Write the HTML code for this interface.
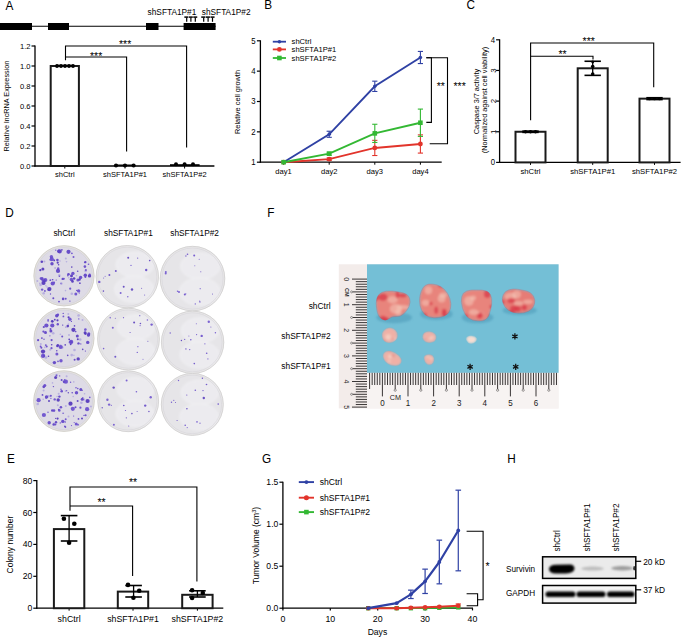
<!DOCTYPE html>
<html><head><meta charset="utf-8"><style>
html,body{margin:0;padding:0;background:#fff;overflow:hidden;}
svg{display:block;}
text{font-family:"Liberation Sans", sans-serif;}
</style></head><body>
<svg width="685" height="637" viewBox="0 0 685 637">
<defs>
<radialGradient id="dishC" cx="50%" cy="50%" r="50%">
 <stop offset="0" stop-color="#dedce6"/><stop offset="0.85" stop-color="#d6d4de"/><stop offset="0.93" stop-color="#c9c8cf"/><stop offset="0.97" stop-color="#e4e3e6"/><stop offset="1" stop-color="#cfcfd0"/>
</radialGradient>
<radialGradient id="dishL" cx="50%" cy="50%" r="50%">
 <stop offset="0" stop-color="#e8e6ec"/><stop offset="0.85" stop-color="#e2e0e6"/><stop offset="0.93" stop-color="#d3d2d6"/><stop offset="0.97" stop-color="#ecebed"/><stop offset="1" stop-color="#d4d3d4"/>
</radialGradient>
<filter id="bl1" x="-20%" y="-20%" width="140%" height="140%"><feGaussianBlur stdDeviation="0.5"/></filter>
<filter id="bl2" x="-30%" y="-60%" width="160%" height="220%"><feGaussianBlur stdDeviation="1.3"/></filter>
<filter id="bl3" x="-30%" y="-60%" width="160%" height="220%"><feGaussianBlur stdDeviation="0.8"/></filter>
<radialGradient id="tum" cx="45%" cy="40%" r="60%">
 <stop offset="0" stop-color="#f7c9b6"/><stop offset="0.5" stop-color="#f0a293"/><stop offset="1" stop-color="#e06a6e"/>
</radialGradient>
<radialGradient id="tumS" cx="45%" cy="40%" r="60%">
 <stop offset="0" stop-color="#f8d4c6"/><stop offset="0.6" stop-color="#f2b3a6"/><stop offset="1" stop-color="#e79a92"/>
</radialGradient>
</defs>
<rect width="685" height="637" fill="#fff"/>
<text transform="translate(5.5 9.8) scale(1 1.09)" font-size="11.8">A</text>
<text transform="translate(264.2 8.7) scale(1 1.09)" font-size="11.8">B</text>
<text transform="translate(466.6 8.6) scale(1 1.09)" font-size="11.8">C</text>
<text transform="translate(5.2 216.7) scale(1 1.09)" font-size="11.8">D</text>
<text transform="translate(267.2 216.7) scale(1 1.09)" font-size="11.8">F</text>
<text transform="translate(7.1 462.6) scale(1 1.09)" font-size="11.8">E</text>
<text transform="translate(262.0 462.6) scale(1 1.09)" font-size="11.8">G</text>
<text transform="translate(507.2 462.6) scale(1 1.09)" font-size="11.8">H</text>
<line x1="0.00" y1="26.30" x2="215.60" y2="26.30" stroke="#000" stroke-width="1.1" />
<rect x="0.00" y="23.00" width="32.00" height="7.00" fill="#000" stroke="none" stroke-width="0" />
<rect x="48.00" y="23.00" width="21.00" height="7.00" fill="#000" stroke="none" stroke-width="0" />
<rect x="146.00" y="23.00" width="12.50" height="7.00" fill="#000" stroke="none" stroke-width="0" />
<rect x="183.60" y="23.00" width="32.00" height="7.00" fill="#000" stroke="none" stroke-width="0" />
<text transform="translate(147.60 15.00) scale(1 1.05)" font-size="8.3" text-anchor="start" fill="#000" font-weight="normal" >shSFTA1P#1</text>
<text transform="translate(201.80 15.00) scale(1 1.05)" font-size="8.3" text-anchor="start" fill="#000" font-weight="normal" >shSFTA1P#2</text>
<line x1="184.35" y1="17.10" x2="188.32" y2="17.10" stroke="#000" stroke-width="1.5" />
<line x1="188.82" y1="17.10" x2="192.78" y2="17.10" stroke="#000" stroke-width="1.5" />
<line x1="193.28" y1="17.10" x2="197.25" y2="17.10" stroke="#000" stroke-width="1.5" />
<line x1="186.70" y1="17.50" x2="186.70" y2="21.80" stroke="#000" stroke-width="1.2" />
<line x1="190.90" y1="17.50" x2="190.90" y2="21.80" stroke="#000" stroke-width="1.2" />
<line x1="195.30" y1="17.50" x2="195.30" y2="21.80" stroke="#000" stroke-width="1.2" />
<line x1="201.25" y1="17.10" x2="205.35" y2="17.10" stroke="#000" stroke-width="1.5" />
<line x1="205.85" y1="17.10" x2="209.95" y2="17.10" stroke="#000" stroke-width="1.5" />
<line x1="210.45" y1="17.10" x2="214.55" y2="17.10" stroke="#000" stroke-width="1.5" />
<line x1="203.70" y1="17.50" x2="203.70" y2="21.80" stroke="#000" stroke-width="1.2" />
<line x1="208.10" y1="17.50" x2="208.10" y2="21.80" stroke="#000" stroke-width="1.2" />
<line x1="212.50" y1="17.50" x2="212.50" y2="21.80" stroke="#000" stroke-width="1.2" />
<line x1="35.00" y1="45.50" x2="35.00" y2="166.50" stroke="#000" stroke-width="1.3" />
<line x1="34.40" y1="166.00" x2="214.40" y2="166.00" stroke="#000" stroke-width="1.3" />
<line x1="31.50" y1="166.00" x2="35.00" y2="166.00" stroke="#000" stroke-width="1.2" />
<text transform="translate(30.50 168.60) scale(1 1.05)" font-size="7.6" text-anchor="end" fill="#000" font-weight="normal" >0.0</text>
<line x1="31.50" y1="146.00" x2="35.00" y2="146.00" stroke="#000" stroke-width="1.2" />
<text transform="translate(30.50 148.60) scale(1 1.05)" font-size="7.6" text-anchor="end" fill="#000" font-weight="normal" >0.2</text>
<line x1="31.50" y1="126.00" x2="35.00" y2="126.00" stroke="#000" stroke-width="1.2" />
<text transform="translate(30.50 128.60) scale(1 1.05)" font-size="7.6" text-anchor="end" fill="#000" font-weight="normal" >0.4</text>
<line x1="31.50" y1="106.00" x2="35.00" y2="106.00" stroke="#000" stroke-width="1.2" />
<text transform="translate(30.50 108.60) scale(1 1.05)" font-size="7.6" text-anchor="end" fill="#000" font-weight="normal" >0.6</text>
<line x1="31.50" y1="86.00" x2="35.00" y2="86.00" stroke="#000" stroke-width="1.2" />
<text transform="translate(30.50 88.60) scale(1 1.05)" font-size="7.6" text-anchor="end" fill="#000" font-weight="normal" >0.8</text>
<line x1="31.50" y1="66.00" x2="35.00" y2="66.00" stroke="#000" stroke-width="1.2" />
<text transform="translate(30.50 68.60) scale(1 1.05)" font-size="7.6" text-anchor="end" fill="#000" font-weight="normal" >1.0</text>
<line x1="31.50" y1="46.00" x2="35.00" y2="46.00" stroke="#000" stroke-width="1.2" />
<text transform="translate(30.50 48.60) scale(1 1.05)" font-size="7.6" text-anchor="end" fill="#000" font-weight="normal" >1.2</text>
<line x1="64.80" y1="166.00" x2="64.80" y2="168.50" stroke="#000" stroke-width="1" />
<line x1="125.00" y1="166.00" x2="125.00" y2="168.50" stroke="#000" stroke-width="1" />
<line x1="184.60" y1="166.00" x2="184.60" y2="168.50" stroke="#000" stroke-width="1" />
<rect x="50.70" y="66.00" width="28.20" height="100.00" fill="#fff" stroke="#1a1a1a" stroke-width="2" />
<circle cx="57.00" cy="66.00" r="1.9" fill="#000" />
<circle cx="61.00" cy="66.00" r="1.9" fill="#000" />
<circle cx="65.00" cy="66.00" r="1.9" fill="#000" />
<circle cx="69.00" cy="66.00" r="1.9" fill="#000" />
<circle cx="73.00" cy="66.00" r="1.9" fill="#000" />
<line x1="56.00" y1="65.50" x2="74.00" y2="65.50" stroke="#000" stroke-width="1.5" />
<circle cx="116.00" cy="165.50" r="2.1" fill="#000" />
<circle cx="125.00" cy="165.50" r="2.1" fill="#000" />
<circle cx="133.60" cy="165.50" r="2.1" fill="#000" />
<line x1="115.00" y1="165.20" x2="134.00" y2="165.20" stroke="#000" stroke-width="1.4" />
<rect x="170.00" y="164.20" width="29.60" height="1.80" fill="#000" stroke="none" stroke-width="0" />
<circle cx="176.00" cy="164.30" r="2" fill="#000" />
<circle cx="184.60" cy="164.30" r="2" fill="#000" />
<circle cx="193.00" cy="164.30" r="2" fill="#000" />
<polyline points="65.50,60.20 65.50,46.00 186.60,46.00 186.60,147.50" fill="none" stroke="#000" stroke-width="1.1" />
<polyline points="65.50,57.00 126.60,57.00 126.60,151.40" fill="none" stroke="#000" stroke-width="1.1" />
<text transform="translate(96.10 60.22) scale(1 1.0)" font-size="10.5" text-anchor="middle" fill="#000" font-weight="normal" >***</text>
<text transform="translate(125.10 48.02) scale(1 1.0)" font-size="10.5" text-anchor="middle" fill="#000" font-weight="normal" >***</text>
<text x="9.00" y="106.00" font-size="7.3" text-anchor="middle" fill="#000" font-weight="normal" transform="rotate(-90 9.00 106.00)" >Relative lncRNA Expression</text>
<text transform="translate(64.80 176.60) scale(1 1.05)" font-size="7.5" text-anchor="middle" fill="#000" font-weight="normal" >shCtrl</text>
<text transform="translate(125.00 176.60) scale(1 1.05)" font-size="7.5" text-anchor="middle" fill="#000" font-weight="normal" >shSFTA1P#1</text>
<text transform="translate(184.60 176.60) scale(1 1.05)" font-size="7.5" text-anchor="middle" fill="#000" font-weight="normal" >shSFTA1P#2</text>
<line x1="260.40" y1="40.30" x2="260.40" y2="162.70" stroke="#000" stroke-width="1.3" />
<line x1="259.80" y1="162.20" x2="441.70" y2="162.20" stroke="#000" stroke-width="1.3" />
<line x1="256.90" y1="162.20" x2="260.40" y2="162.20" stroke="#000" stroke-width="1.2" />
<text transform="translate(255.60 165.00) scale(1 1.05)" font-size="7.8" text-anchor="end" fill="#000" font-weight="normal" >1</text>
<line x1="256.90" y1="131.85" x2="260.40" y2="131.85" stroke="#000" stroke-width="1.2" />
<text transform="translate(255.60 134.65) scale(1 1.05)" font-size="7.8" text-anchor="end" fill="#000" font-weight="normal" >2</text>
<line x1="256.90" y1="101.50" x2="260.40" y2="101.50" stroke="#000" stroke-width="1.2" />
<text transform="translate(255.60 104.30) scale(1 1.05)" font-size="7.8" text-anchor="end" fill="#000" font-weight="normal" >3</text>
<line x1="256.90" y1="71.15" x2="260.40" y2="71.15" stroke="#000" stroke-width="1.2" />
<text transform="translate(255.60 73.95) scale(1 1.05)" font-size="7.8" text-anchor="end" fill="#000" font-weight="normal" >4</text>
<line x1="256.90" y1="40.80" x2="260.40" y2="40.80" stroke="#000" stroke-width="1.2" />
<text transform="translate(255.60 43.60) scale(1 1.05)" font-size="7.8" text-anchor="end" fill="#000" font-weight="normal" >5</text>
<line x1="283.60" y1="162.20" x2="283.60" y2="164.70" stroke="#000" stroke-width="1" />
<text transform="translate(283.60 173.60) scale(1 1.05)" font-size="7.6" text-anchor="middle" fill="#000" font-weight="normal" >day1</text>
<line x1="329.20" y1="162.20" x2="329.20" y2="164.70" stroke="#000" stroke-width="1" />
<text transform="translate(329.20 173.60) scale(1 1.05)" font-size="7.6" text-anchor="middle" fill="#000" font-weight="normal" >day2</text>
<line x1="374.80" y1="162.20" x2="374.80" y2="164.70" stroke="#000" stroke-width="1" />
<text transform="translate(374.80 173.60) scale(1 1.05)" font-size="7.6" text-anchor="middle" fill="#000" font-weight="normal" >day3</text>
<line x1="420.40" y1="162.20" x2="420.40" y2="164.70" stroke="#000" stroke-width="1" />
<text transform="translate(420.40 173.60) scale(1 1.05)" font-size="7.6" text-anchor="middle" fill="#000" font-weight="normal" >day4</text>
<line x1="329.20" y1="131.24" x2="329.20" y2="137.31" stroke="#2f41a4" stroke-width="1.1" />
<line x1="326.60" y1="131.24" x2="331.80" y2="131.24" stroke="#2f41a4" stroke-width="1.1" />
<line x1="326.60" y1="137.31" x2="331.80" y2="137.31" stroke="#2f41a4" stroke-width="1.1" />
<line x1="374.80" y1="81.17" x2="374.80" y2="91.48" stroke="#2f41a4" stroke-width="1.1" />
<line x1="372.20" y1="81.17" x2="377.40" y2="81.17" stroke="#2f41a4" stroke-width="1.1" />
<line x1="372.20" y1="91.48" x2="377.40" y2="91.48" stroke="#2f41a4" stroke-width="1.1" />
<line x1="420.40" y1="51.42" x2="420.40" y2="63.56" stroke="#2f41a4" stroke-width="1.1" />
<line x1="417.80" y1="51.42" x2="423.00" y2="51.42" stroke="#2f41a4" stroke-width="1.1" />
<line x1="417.80" y1="63.56" x2="423.00" y2="63.56" stroke="#2f41a4" stroke-width="1.1" />
<polyline points="283.60,162.20 329.20,134.28 374.80,86.32 420.40,57.49" fill="none" stroke="#2f41a4" stroke-width="1.9" />
<circle cx="283.60" cy="162.20" r="1.8" fill="#2f41a4" />
<circle cx="329.20" cy="134.28" r="1.8" fill="#2f41a4" />
<circle cx="374.80" cy="86.32" r="1.8" fill="#2f41a4" />
<circle cx="420.40" cy="57.49" r="1.8" fill="#2f41a4" />
<line x1="329.20" y1="157.95" x2="329.20" y2="160.38" stroke="#e2342b" stroke-width="1.1" />
<line x1="326.60" y1="157.95" x2="331.80" y2="157.95" stroke="#e2342b" stroke-width="1.1" />
<line x1="326.60" y1="160.38" x2="331.80" y2="160.38" stroke="#e2342b" stroke-width="1.1" />
<line x1="374.80" y1="140.35" x2="374.80" y2="155.52" stroke="#e2342b" stroke-width="1.1" />
<line x1="372.20" y1="140.35" x2="377.40" y2="140.35" stroke="#e2342b" stroke-width="1.1" />
<line x1="372.20" y1="155.52" x2="377.40" y2="155.52" stroke="#e2342b" stroke-width="1.1" />
<line x1="420.40" y1="134.88" x2="420.40" y2="153.09" stroke="#e2342b" stroke-width="1.1" />
<line x1="417.80" y1="134.88" x2="423.00" y2="134.88" stroke="#e2342b" stroke-width="1.1" />
<line x1="417.80" y1="153.09" x2="423.00" y2="153.09" stroke="#e2342b" stroke-width="1.1" />
<polyline points="283.60,162.20 329.20,159.16 374.80,147.94 420.40,143.99" fill="none" stroke="#e2342b" stroke-width="1.9" />
<circle cx="283.60" cy="162.20" r="2.4" fill="#e2342b" />
<circle cx="329.20" cy="159.16" r="2.4" fill="#e2342b" />
<circle cx="374.80" cy="147.94" r="2.4" fill="#e2342b" />
<circle cx="420.40" cy="143.99" r="2.4" fill="#e2342b" />
<line x1="329.20" y1="152.18" x2="329.20" y2="155.22" stroke="#33b833" stroke-width="1.1" />
<line x1="326.60" y1="152.18" x2="331.80" y2="152.18" stroke="#33b833" stroke-width="1.1" />
<line x1="326.60" y1="155.22" x2="331.80" y2="155.22" stroke="#33b833" stroke-width="1.1" />
<line x1="374.80" y1="124.26" x2="374.80" y2="142.47" stroke="#33b833" stroke-width="1.1" />
<line x1="372.20" y1="124.26" x2="377.40" y2="124.26" stroke="#33b833" stroke-width="1.1" />
<line x1="372.20" y1="142.47" x2="377.40" y2="142.47" stroke="#33b833" stroke-width="1.1" />
<line x1="420.40" y1="109.09" x2="420.40" y2="136.40" stroke="#33b833" stroke-width="1.1" />
<line x1="417.80" y1="109.09" x2="423.00" y2="109.09" stroke="#33b833" stroke-width="1.1" />
<line x1="417.80" y1="136.40" x2="423.00" y2="136.40" stroke="#33b833" stroke-width="1.1" />
<polyline points="283.60,162.20 329.20,153.70 374.80,133.37 420.40,122.74" fill="none" stroke="#33b833" stroke-width="1.9" />
<rect x="281.30" y="159.90" width="4.60" height="4.60" fill="#33b833" stroke="none" stroke-width="0" />
<rect x="326.90" y="151.40" width="4.60" height="4.60" fill="#33b833" stroke="none" stroke-width="0" />
<rect x="372.50" y="131.07" width="4.60" height="4.60" fill="#33b833" stroke="none" stroke-width="0" />
<rect x="418.10" y="120.44" width="4.60" height="4.60" fill="#33b833" stroke="none" stroke-width="0" />
<line x1="272.80" y1="41.70" x2="286.00" y2="41.70" stroke="#2f41a4" stroke-width="1.8" />
<circle cx="279.40" cy="41.70" r="1.8" fill="#2f41a4" />
<text transform="translate(291.60 44.40) scale(1 1.05)" font-size="7.6" text-anchor="start" fill="#000" font-weight="normal" >shCtrl</text>
<line x1="272.80" y1="49.40" x2="286.00" y2="49.40" stroke="#e2342b" stroke-width="1.8" />
<circle cx="279.40" cy="49.40" r="2.4" fill="#e2342b" />
<text transform="translate(291.60 52.10) scale(1 1.05)" font-size="7.6" text-anchor="start" fill="#000" font-weight="normal" >shSFTA1P#1</text>
<line x1="272.80" y1="58.00" x2="286.00" y2="58.00" stroke="#33b833" stroke-width="1.8" />
<rect x="277.10" y="55.70" width="4.60" height="4.60" fill="#33b833" stroke="none" stroke-width="0" />
<text transform="translate(291.60 60.70) scale(1 1.05)" font-size="7.6" text-anchor="start" fill="#000" font-weight="normal" >shSFTA1P#2</text>
<polyline points="426.30,57.80 431.40,57.80 431.40,122.40 426.30,122.40" fill="none" stroke="#000" stroke-width="1.1" />
<polyline points="426.30,57.80 447.50,57.80 447.50,143.80 429.70,143.80" fill="none" stroke="#000" stroke-width="1.1" />
<text transform="translate(440.80 90.02) scale(1 1.0)" font-size="10.5" text-anchor="middle" fill="#000" font-weight="normal" >**</text>
<text transform="translate(459.60 89.72) scale(1 1.0)" font-size="10.5" text-anchor="middle" fill="#000" font-weight="normal" >***</text>
<text x="240.40" y="102.00" font-size="7.4" text-anchor="middle" fill="#000" font-weight="normal" transform="rotate(-90 240.40 102.00)" >Relative cell growth</text>
<line x1="499.60" y1="39.30" x2="499.60" y2="162.90" stroke="#000" stroke-width="1.3" />
<line x1="499.00" y1="162.40" x2="680.60" y2="162.40" stroke="#000" stroke-width="1.3" />
<line x1="496.10" y1="162.40" x2="499.60" y2="162.40" stroke="#000" stroke-width="1.2" />
<text transform="translate(495.00 165.20) scale(1 1.05)" font-size="7.8" text-anchor="end" fill="#000" font-weight="normal" >0</text>
<line x1="496.10" y1="131.75" x2="499.60" y2="131.75" stroke="#000" stroke-width="1.2" />
<text x="495.60" y="131.75" font-size="7.8" text-anchor="middle" fill="#000" font-weight="normal" transform="rotate(-90 495.60 131.75)" >1</text>
<line x1="496.10" y1="101.10" x2="499.60" y2="101.10" stroke="#000" stroke-width="1.2" />
<text x="495.60" y="101.10" font-size="7.8" text-anchor="middle" fill="#000" font-weight="normal" transform="rotate(-90 495.60 101.10)" >2</text>
<line x1="496.10" y1="70.45" x2="499.60" y2="70.45" stroke="#000" stroke-width="1.2" />
<text x="495.60" y="70.45" font-size="7.8" text-anchor="middle" fill="#000" font-weight="normal" transform="rotate(-90 495.60 70.45)" >3</text>
<line x1="496.10" y1="39.80" x2="499.60" y2="39.80" stroke="#000" stroke-width="1.2" />
<text transform="translate(495.00 42.60) scale(1 1.05)" font-size="7.8" text-anchor="end" fill="#000" font-weight="normal" >4</text>
<line x1="530.50" y1="162.40" x2="530.50" y2="164.90" stroke="#000" stroke-width="1" />
<line x1="592.70" y1="162.40" x2="592.70" y2="164.90" stroke="#000" stroke-width="1" />
<line x1="654.50" y1="162.40" x2="654.50" y2="164.90" stroke="#000" stroke-width="1" />
<rect x="515.50" y="131.75" width="30.00" height="30.65" fill="#fff" stroke="#1a1a1a" stroke-width="2" />
<rect x="577.70" y="68.30" width="30.00" height="94.10" fill="#fff" stroke="#1a1a1a" stroke-width="2" />
<rect x="639.50" y="98.65" width="30.00" height="63.75" fill="#fff" stroke="#1a1a1a" stroke-width="2" />
<line x1="530.50" y1="131.14" x2="530.50" y2="132.36" stroke="#000" stroke-width="1.3" />
<line x1="522.30" y1="131.14" x2="538.70" y2="131.14" stroke="#000" stroke-width="1.6" />
<line x1="522.30" y1="132.36" x2="538.70" y2="132.36" stroke="#000" stroke-width="1.6" />
<line x1="592.70" y1="61.26" x2="592.70" y2="75.35" stroke="#000" stroke-width="1.3" />
<line x1="584.50" y1="61.26" x2="600.90" y2="61.26" stroke="#000" stroke-width="1.6" />
<line x1="584.50" y1="75.35" x2="600.90" y2="75.35" stroke="#000" stroke-width="1.6" />
<line x1="654.50" y1="97.73" x2="654.50" y2="99.57" stroke="#000" stroke-width="1.3" />
<line x1="646.30" y1="97.73" x2="662.70" y2="97.73" stroke="#000" stroke-width="1.6" />
<line x1="646.30" y1="99.57" x2="662.70" y2="99.57" stroke="#000" stroke-width="1.6" />
<circle cx="592.70" cy="66.50" r="1.8" fill="#000" />
<circle cx="592.70" cy="74.00" r="1.8" fill="#000" />
<circle cx="592.70" cy="62.00" r="1.4" fill="#000" />
<circle cx="525.50" cy="131.75" r="1.7" fill="#000" />
<circle cx="530.50" cy="131.75" r="1.7" fill="#000" />
<circle cx="535.50" cy="131.75" r="1.7" fill="#000" />
<circle cx="649.50" cy="98.65" r="1.7" fill="#000" />
<circle cx="654.50" cy="98.65" r="1.7" fill="#000" />
<circle cx="659.50" cy="98.65" r="1.7" fill="#000" />
<polyline points="530.60,120.30 530.60,43.00 653.70,43.00 653.70,87.20" fill="none" stroke="#000" stroke-width="1.1" />
<polyline points="530.60,56.30 593.00,56.30 593.00,59.60" fill="none" stroke="#000" stroke-width="1.1" />
<text transform="translate(588.70 44.72) scale(1 1.0)" font-size="10.5" text-anchor="middle" fill="#000" font-weight="normal" >***</text>
<text transform="translate(562.50 57.72) scale(1 1.0)" font-size="10.5" text-anchor="middle" fill="#000" font-weight="normal" >**</text>
<text x="478.60" y="101.50" font-size="7.3" text-anchor="middle" fill="#000" font-weight="normal" transform="rotate(-90 478.60 101.50)" >Caspase 3/7 activity</text>
<text x="486.60" y="100.00" font-size="7.3" text-anchor="middle" fill="#000" font-weight="normal" transform="rotate(-90 486.60 100.00)" >(Normalized against cell viability)</text>
<text transform="translate(530.50 173.80) scale(1 1.05)" font-size="7.7" text-anchor="middle" fill="#000" font-weight="normal" >shCtrl</text>
<text transform="translate(592.70 173.80) scale(1 1.05)" font-size="7.7" text-anchor="middle" fill="#000" font-weight="normal" >shSFTA1P#1</text>
<text transform="translate(654.50 173.80) scale(1 1.05)" font-size="7.7" text-anchor="middle" fill="#000" font-weight="normal" >shSFTA1P#2</text>
<line x1="36.80" y1="480.10" x2="36.80" y2="608.70" stroke="#000" stroke-width="1.3" />
<line x1="36.20" y1="608.20" x2="223.30" y2="608.20" stroke="#000" stroke-width="1.3" />
<line x1="33.30" y1="608.20" x2="36.80" y2="608.20" stroke="#000" stroke-width="1.2" />
<text transform="translate(32.20 611.20) scale(1 1.05)" font-size="8.6" text-anchor="end" fill="#000" font-weight="normal" >0</text>
<line x1="33.30" y1="576.30" x2="36.80" y2="576.30" stroke="#000" stroke-width="1.2" />
<text transform="translate(32.20 579.30) scale(1 1.05)" font-size="8.6" text-anchor="end" fill="#000" font-weight="normal" >20</text>
<line x1="33.30" y1="544.40" x2="36.80" y2="544.40" stroke="#000" stroke-width="1.2" />
<text transform="translate(32.20 547.40) scale(1 1.05)" font-size="8.6" text-anchor="end" fill="#000" font-weight="normal" >40</text>
<line x1="33.30" y1="512.50" x2="36.80" y2="512.50" stroke="#000" stroke-width="1.2" />
<text transform="translate(32.20 515.50) scale(1 1.05)" font-size="8.6" text-anchor="end" fill="#000" font-weight="normal" >60</text>
<line x1="33.30" y1="480.60" x2="36.80" y2="480.60" stroke="#000" stroke-width="1.2" />
<text transform="translate(32.20 483.60) scale(1 1.05)" font-size="8.6" text-anchor="end" fill="#000" font-weight="normal" >80</text>
<line x1="69.10" y1="608.20" x2="69.10" y2="610.70" stroke="#000" stroke-width="1" />
<line x1="133.00" y1="608.20" x2="133.00" y2="610.70" stroke="#000" stroke-width="1" />
<line x1="197.40" y1="608.20" x2="197.40" y2="610.70" stroke="#000" stroke-width="1" />
<rect x="53.90" y="529.09" width="30.40" height="79.11" fill="#fff" stroke="#1a1a1a" stroke-width="2" />
<rect x="117.80" y="591.61" width="30.40" height="16.59" fill="#fff" stroke="#1a1a1a" stroke-width="2" />
<rect x="182.20" y="594.80" width="30.40" height="13.40" fill="#fff" stroke="#1a1a1a" stroke-width="2" />
<line x1="69.10" y1="515.60" x2="69.10" y2="541.00" stroke="#000" stroke-width="1.3" />
<line x1="60.80" y1="515.60" x2="77.40" y2="515.60" stroke="#000" stroke-width="1.6" />
<line x1="60.80" y1="541.00" x2="77.40" y2="541.00" stroke="#000" stroke-width="1.6" />
<line x1="133.60" y1="585.50" x2="133.60" y2="597.00" stroke="#000" stroke-width="1.3" />
<line x1="125.30" y1="585.50" x2="141.90" y2="585.50" stroke="#000" stroke-width="1.6" />
<line x1="125.30" y1="597.00" x2="141.90" y2="597.00" stroke="#000" stroke-width="1.6" />
<line x1="197.40" y1="590.80" x2="197.40" y2="597.00" stroke="#000" stroke-width="1.3" />
<line x1="189.10" y1="590.80" x2="205.70" y2="590.80" stroke="#000" stroke-width="1.6" />
<line x1="189.10" y1="597.00" x2="205.70" y2="597.00" stroke="#000" stroke-width="1.6" />
<circle cx="63.90" cy="518.70" r="2.3" fill="#000" />
<circle cx="74.30" cy="523.70" r="2.3" fill="#000" />
<circle cx="69.10" cy="542.70" r="2.3" fill="#000" />
<circle cx="128.00" cy="584.90" r="2.3" fill="#000" />
<circle cx="139.20" cy="590.80" r="2.3" fill="#000" />
<circle cx="133.40" cy="597.70" r="2.3" fill="#000" />
<circle cx="192.10" cy="590.30" r="2.3" fill="#000" />
<circle cx="202.80" cy="593.00" r="2.3" fill="#000" />
<circle cx="192.10" cy="598.00" r="2.3" fill="#000" />
<polyline points="70.00,510.80 70.00,487.00 196.90,487.00 196.90,581.50" fill="none" stroke="#000" stroke-width="1.1" />
<polyline points="70.00,506.00 132.60,506.00 132.60,576.10" fill="none" stroke="#000" stroke-width="1.1" />
<text transform="translate(133.10 485.92) scale(1 1.0)" font-size="10.5" text-anchor="middle" fill="#000" font-weight="normal" >**</text>
<text transform="translate(101.60 505.72) scale(1 1.0)" font-size="10.5" text-anchor="middle" fill="#000" font-weight="normal" >**</text>
<text x="13.00" y="544.60" font-size="8.5" text-anchor="middle" fill="#000" font-weight="normal" transform="rotate(-90 13.00 544.60)" >Colony number</text>
<text transform="translate(69.10 621.60) scale(1 1.05)" font-size="8.8" text-anchor="middle" fill="#000" font-weight="normal" >shCtrl</text>
<text transform="translate(133.00 621.60) scale(1 1.05)" font-size="8.8" text-anchor="middle" fill="#000" font-weight="normal" >shSFTA1P#1</text>
<text transform="translate(197.40 621.60) scale(1 1.05)" font-size="8.8" text-anchor="middle" fill="#000" font-weight="normal" >shSFTA1P#2</text>
<line x1="282.90" y1="481.70" x2="282.90" y2="608.70" stroke="#000" stroke-width="1.3" />
<line x1="282.30" y1="608.20" x2="473.00" y2="608.20" stroke="#000" stroke-width="1.3" />
<line x1="279.40" y1="608.20" x2="282.90" y2="608.20" stroke="#000" stroke-width="1.2" />
<text transform="translate(278.30 611.20) scale(1 1.05)" font-size="8.6" text-anchor="end" fill="#000" font-weight="normal" >0.0</text>
<line x1="279.40" y1="566.20" x2="282.90" y2="566.20" stroke="#000" stroke-width="1.2" />
<text transform="translate(278.30 569.20) scale(1 1.05)" font-size="8.6" text-anchor="end" fill="#000" font-weight="normal" >0.5</text>
<line x1="279.40" y1="524.20" x2="282.90" y2="524.20" stroke="#000" stroke-width="1.2" />
<text transform="translate(278.30 527.20) scale(1 1.05)" font-size="8.6" text-anchor="end" fill="#000" font-weight="normal" >1.0</text>
<line x1="279.40" y1="482.20" x2="282.90" y2="482.20" stroke="#000" stroke-width="1.2" />
<text transform="translate(278.30 485.20) scale(1 1.05)" font-size="8.6" text-anchor="end" fill="#000" font-weight="normal" >1.5</text>
<line x1="282.90" y1="608.20" x2="282.90" y2="610.40" stroke="#000" stroke-width="1.2" />
<text transform="translate(282.90 621.60) scale(1 1.05)" font-size="8.8" text-anchor="middle" fill="#000" font-weight="normal" >0</text>
<line x1="330.30" y1="608.20" x2="330.30" y2="610.40" stroke="#000" stroke-width="1.2" />
<text transform="translate(330.30 621.60) scale(1 1.05)" font-size="8.8" text-anchor="middle" fill="#000" font-weight="normal" >10</text>
<line x1="377.70" y1="608.20" x2="377.70" y2="610.40" stroke="#000" stroke-width="1.2" />
<text transform="translate(377.70 621.60) scale(1 1.05)" font-size="8.8" text-anchor="middle" fill="#000" font-weight="normal" >20</text>
<line x1="425.10" y1="608.20" x2="425.10" y2="610.40" stroke="#000" stroke-width="1.2" />
<text transform="translate(425.10 621.60) scale(1 1.05)" font-size="8.8" text-anchor="middle" fill="#000" font-weight="normal" >30</text>
<line x1="472.50" y1="608.20" x2="472.50" y2="610.40" stroke="#000" stroke-width="1.2" />
<text transform="translate(472.50 621.60) scale(1 1.05)" font-size="8.8" text-anchor="middle" fill="#000" font-weight="normal" >40</text>
<text transform="translate(377.40 634.60) scale(1 1.05)" font-size="8.6" text-anchor="middle" fill="#000" font-weight="normal" >Days</text>
<line x1="410.88" y1="590.14" x2="410.88" y2="598.54" stroke="#2f41a4" stroke-width="1.2" />
<line x1="408.08" y1="590.14" x2="413.68" y2="590.14" stroke="#2f41a4" stroke-width="1.2" />
<line x1="408.08" y1="598.54" x2="413.68" y2="598.54" stroke="#2f41a4" stroke-width="1.2" />
<line x1="425.10" y1="569.14" x2="425.10" y2="593.50" stroke="#2f41a4" stroke-width="1.2" />
<line x1="422.30" y1="569.14" x2="427.90" y2="569.14" stroke="#2f41a4" stroke-width="1.2" />
<line x1="422.30" y1="593.50" x2="427.90" y2="593.50" stroke="#2f41a4" stroke-width="1.2" />
<line x1="439.32" y1="540.16" x2="439.32" y2="583.84" stroke="#2f41a4" stroke-width="1.2" />
<line x1="436.52" y1="540.16" x2="442.12" y2="540.16" stroke="#2f41a4" stroke-width="1.2" />
<line x1="436.52" y1="583.84" x2="442.12" y2="583.84" stroke="#2f41a4" stroke-width="1.2" />
<line x1="458.28" y1="490.18" x2="458.28" y2="570.82" stroke="#2f41a4" stroke-width="1.2" />
<line x1="455.48" y1="490.18" x2="461.08" y2="490.18" stroke="#2f41a4" stroke-width="1.2" />
<line x1="455.48" y1="570.82" x2="461.08" y2="570.82" stroke="#2f41a4" stroke-width="1.2" />
<polyline points="368.22,608.20 396.66,608.20 410.88,608.20 425.10,608.20 439.32,607.78 458.28,607.36" fill="none" stroke="#33b833" stroke-width="1.8" />
<rect x="366.02" y="606.00" width="4.40" height="4.40" fill="#33b833" stroke="none" stroke-width="0" />
<rect x="394.46" y="606.00" width="4.40" height="4.40" fill="#33b833" stroke="none" stroke-width="0" />
<rect x="408.68" y="606.00" width="4.40" height="4.40" fill="#33b833" stroke="none" stroke-width="0" />
<rect x="422.90" y="606.00" width="4.40" height="4.40" fill="#33b833" stroke="none" stroke-width="0" />
<rect x="437.12" y="605.58" width="4.40" height="4.40" fill="#33b833" stroke="none" stroke-width="0" />
<rect x="456.08" y="605.16" width="4.40" height="4.40" fill="#33b833" stroke="none" stroke-width="0" />
<line x1="458.28" y1="604.00" x2="458.28" y2="607.36" stroke="#e2342b" stroke-width="1.2" />
<line x1="455.68" y1="604.00" x2="460.88" y2="604.00" stroke="#e2342b" stroke-width="1.2" />
<polyline points="368.22,608.20 396.66,608.20 410.88,607.78 425.10,607.36 439.32,606.69 458.28,605.68" fill="none" stroke="#e2342b" stroke-width="2" />
<circle cx="368.22" cy="608.20" r="2.3" fill="#e2342b" />
<circle cx="396.66" cy="608.20" r="2.3" fill="#e2342b" />
<circle cx="410.88" cy="607.78" r="2.3" fill="#e2342b" />
<circle cx="425.10" cy="607.36" r="2.3" fill="#e2342b" />
<circle cx="439.32" cy="606.69" r="2.3" fill="#e2342b" />
<circle cx="458.28" cy="605.68" r="2.3" fill="#e2342b" />
<path d="M368.22,608.20 L396.66,603.16 L410.88,594.34 L425.10,581.32 L439.32,562.00 L458.28,530.50" fill="none" stroke="#2f41a4" stroke-width="2.2" stroke-linejoin="round"/>
<circle cx="368.22" cy="608.20" r="1.9" fill="#2f41a4" />
<circle cx="396.66" cy="603.16" r="1.9" fill="#2f41a4" />
<circle cx="410.88" cy="594.34" r="1.9" fill="#2f41a4" />
<circle cx="425.10" cy="581.32" r="1.9" fill="#2f41a4" />
<circle cx="439.32" cy="562.00" r="1.9" fill="#2f41a4" />
<circle cx="458.28" cy="530.50" r="1.9" fill="#2f41a4" />
<line x1="298.80" y1="482.10" x2="314.00" y2="482.10" stroke="#2f41a4" stroke-width="1.9" />
<circle cx="306.40" cy="482.10" r="1.9" fill="#2f41a4" />
<text transform="translate(319.70 485.10) scale(1 1.05)" font-size="8.6" text-anchor="start" fill="#000" font-weight="normal" >shCtrl</text>
<line x1="298.80" y1="497.70" x2="314.00" y2="497.70" stroke="#e2342b" stroke-width="1.9" />
<circle cx="306.40" cy="497.70" r="2.5" fill="#e2342b" />
<text transform="translate(319.70 500.70) scale(1 1.05)" font-size="8.6" text-anchor="start" fill="#000" font-weight="normal" >shSFTA1P#1</text>
<line x1="298.80" y1="512.10" x2="314.00" y2="512.10" stroke="#33b833" stroke-width="1.9" />
<rect x="304.10" y="509.80" width="4.60" height="4.60" fill="#33b833" stroke="none" stroke-width="0" />
<text transform="translate(319.70 515.10) scale(1 1.05)" font-size="8.6" text-anchor="start" fill="#000" font-weight="normal" >shSFTA1P#2</text>
<polyline points="466.60,531.20 483.10,531.20 483.10,599.70 477.60,599.70" fill="none" stroke="#000" stroke-width="1.1" />
<polyline points="466.60,593.70 477.60,593.70 477.60,605.80 466.60,605.80" fill="none" stroke="#000" stroke-width="1.1" />
<text transform="translate(487.60 570.12) scale(1 1.0)" font-size="10.5" text-anchor="middle" fill="#000" font-weight="normal" >*</text>
<text transform="rotate(-90 259.4 545.6)" x="259.4" y="545.6" font-size="8.5" text-anchor="middle">Tumor Volume (cm<tspan font-size="5.5" dy="-3">3</tspan><tspan dy="3">)</tspan></text>
<text transform="translate(506.00 572.00) scale(1 1.05)" font-size="8.2" text-anchor="start" fill="#000" font-weight="normal" >Survivin</text>
<text transform="translate(506.00 595.60) scale(1 1.05)" font-size="8.2" text-anchor="start" fill="#000" font-weight="normal" >GAPDH</text>
<rect x="542.60" y="556.80" width="93.20" height="21.60" fill="#ebebeb" stroke="#000" stroke-width="1.5" />
<rect x="542.60" y="585.50" width="93.20" height="17.60" fill="#f4f4f4" stroke="#000" stroke-width="1.5" />
<line x1="635.80" y1="561.30" x2="641.20" y2="561.30" stroke="#000" stroke-width="1.2" />
<line x1="635.80" y1="589.80" x2="641.20" y2="589.80" stroke="#000" stroke-width="1.2" />
<text transform="translate(643.20 564.60) scale(1 1.05)" font-size="8.4" text-anchor="start" fill="#000" font-weight="normal" >20 kD</text>
<text transform="translate(643.20 593.20) scale(1 1.05)" font-size="8.4" text-anchor="start" fill="#000" font-weight="normal" >37 kD</text>
<text x="559.60" y="551.60" font-size="8.2" text-anchor="start" fill="#000" font-weight="normal" transform="rotate(-90 559.60 551.60)" >shCtrl</text>
<text x="589.60" y="551.60" font-size="8.2" text-anchor="start" fill="#000" font-weight="normal" transform="rotate(-90 589.60 551.60)" >shSFTA1P#1</text>
<text x="619.20" y="551.60" font-size="8.2" text-anchor="start" fill="#000" font-weight="normal" transform="rotate(-90 619.20 551.60)" >shSFTA1P#2</text>
<text transform="translate(64.20 236.40) scale(1 1.05)" font-size="8.3" text-anchor="middle" fill="#000" font-weight="normal" >shCtrl</text>
<text transform="translate(128.40 236.40) scale(1 1.05)" font-size="8.3" text-anchor="middle" fill="#000" font-weight="normal" >shSFTA1P#1</text>
<text transform="translate(194.60 236.40) scale(1 1.05)" font-size="8.3" text-anchor="middle" fill="#000" font-weight="normal" >shSFTA1P#2</text>
<circle cx="64.0" cy="275.8" r="30.4" fill="#e4e2e2"/>
<circle cx="64.0" cy="275.8" r="28.4" fill="#dedbe6"/>
<circle cx="64.0" cy="275.8" r="30.099999999999998" fill="none" stroke="#cbc8c0" stroke-width="0.7"/>
<circle cx="64.0" cy="275.8" r="28.4" fill="none" stroke="#d2d0d8" stroke-width="0.6"/>
<g filter="url(#bl1)"><circle cx="44.4" cy="281.8" r="1.0" fill="#8a7ad6" opacity="0.45"/><circle cx="39.8" cy="283.4" r="0.8" fill="#8a7ad6" opacity="0.45"/><circle cx="71.8" cy="293.8" r="1.3" fill="#8a7ad6" opacity="0.45"/><circle cx="55.1" cy="268.0" r="1.0" fill="#8a7ad6" opacity="0.45"/><circle cx="61.3" cy="283.6" r="1.3" fill="#8a7ad6" opacity="0.45"/><circle cx="50.0" cy="260.0" r="1.0" fill="#8a7ad6" opacity="0.45"/><circle cx="85.6" cy="270.9" r="1.3" fill="#8a7ad6" opacity="0.45"/><circle cx="51.3" cy="258.3" r="1.3" fill="#8a7ad6" opacity="0.45"/><circle cx="68.8" cy="277.8" r="0.8" fill="#8a7ad6" opacity="0.45"/><circle cx="44.4" cy="261.6" r="1.0" fill="#8a7ad6" opacity="0.45"/><circle cx="40.6" cy="285.0" r="1.3" fill="#8a7ad6" opacity="0.45"/><circle cx="65.5" cy="290.6" r="0.8" fill="#8a7ad6" opacity="0.45"/><circle cx="54.3" cy="260.0" r="1.0" fill="#8a7ad6" opacity="0.45"/><circle cx="47.0" cy="287.0" r="0.8" fill="#8a7ad6" opacity="0.45"/><circle cx="60.0" cy="261.0" r="0.8" fill="#8a7ad6" opacity="0.45"/><circle cx="59.3" cy="275.4" r="1.3" fill="#8a7ad6" opacity="0.45"/><circle cx="65.8" cy="258.6" r="1.0" fill="#8a7ad6" opacity="0.45"/><circle cx="43.7" cy="293.3" r="1.3" fill="#8a7ad6" opacity="0.45"/><circle cx="76.5" cy="275.8" r="0.8" fill="#8a7ad6" opacity="0.45"/><circle cx="37.4" cy="280.9" r="1.0" fill="#8a7ad6" opacity="0.45"/><circle cx="45.9" cy="285.8" r="0.8" fill="#8a7ad6" opacity="0.45"/><circle cx="66.5" cy="261.8" r="0.8" fill="#8a7ad6" opacity="0.45"/><circle cx="62.7" cy="278.9" r="1.2" fill="#5e42c6" opacity="0.92"/><circle cx="79.3" cy="293.0" r="0.6" fill="#5e42c6" opacity="0.92"/><circle cx="45.3" cy="280.0" r="2.1" fill="#6a4ece" opacity="0.92"/><circle cx="52.7" cy="279.7" r="0.8" fill="#6446ca" opacity="0.92"/><circle cx="58.2" cy="268.5" r="1.2" fill="#6a4ece" opacity="0.92"/><circle cx="89.5" cy="275.9" r="1.7" fill="#5538bc" opacity="0.92"/><circle cx="67.8" cy="275.7" r="0.8" fill="#6446ca" opacity="0.92"/><circle cx="85.3" cy="275.2" r="1.7" fill="#5e42c6" opacity="0.92"/><circle cx="74.1" cy="278.5" r="1.3" fill="#5538bc" opacity="0.92"/><circle cx="85.4" cy="277.1" r="1.0" fill="#6446ca" opacity="0.92"/><circle cx="71.4" cy="279.5" r="1.7" fill="#6a4ece" opacity="0.92"/><circle cx="80.6" cy="277.4" r="1.7" fill="#6446ca" opacity="0.92"/><circle cx="78.6" cy="290.9" r="1.7" fill="#6a4ece" opacity="0.92"/><circle cx="71.8" cy="267.1" r="0.8" fill="#5538bc" opacity="0.92"/><circle cx="84.8" cy="262.3" r="0.9" fill="#6a4ece" opacity="0.92"/><circle cx="75.8" cy="294.0" r="1.5" fill="#6a4ece" opacity="0.92"/><circle cx="57.4" cy="260.0" r="1.3" fill="#5e42c6" opacity="0.92"/><circle cx="56.2" cy="280.0" r="0.6" fill="#5538bc" opacity="0.92"/><circle cx="65.7" cy="298.7" r="1.0" fill="#6446ca" opacity="0.92"/><circle cx="73.5" cy="256.9" r="1.0" fill="#6a4ece" opacity="0.92"/><circle cx="88.5" cy="264.2" r="0.8" fill="#6a4ece" opacity="0.92"/><circle cx="42.0" cy="278.7" r="1.7" fill="#5e42c6" opacity="0.92"/><circle cx="59.0" cy="301.6" r="0.9" fill="#5e42c6" opacity="0.92"/><circle cx="79.9" cy="283.2" r="0.9" fill="#5e42c6" opacity="0.92"/><circle cx="77.9" cy="280.0" r="1.5" fill="#6a4ece" opacity="0.92"/><circle cx="72.5" cy="281.4" r="1.3" fill="#5538bc" opacity="0.92"/><circle cx="51.4" cy="256.8" r="1.7" fill="#6a4ece" opacity="0.92"/><circle cx="41.8" cy="261.7" r="1.3" fill="#5538bc" opacity="0.92"/><circle cx="55.8" cy="250.2" r="0.6" fill="#5e42c6" opacity="0.92"/><circle cx="40.7" cy="278.4" r="1.1" fill="#6a4ece" opacity="0.92"/><circle cx="71.5" cy="275.8" r="1.5" fill="#5538bc" opacity="0.92"/><circle cx="61.9" cy="249.9" r="0.8" fill="#5538bc" opacity="0.92"/><circle cx="50.5" cy="294.0" r="0.7" fill="#6446ca" opacity="0.92"/><circle cx="68.5" cy="274.2" r="1.3" fill="#5e42c6" opacity="0.92"/><circle cx="52.0" cy="263.8" r="1.7" fill="#5e42c6" opacity="0.92"/><circle cx="58.0" cy="270.9" r="2.1" fill="#5e42c6" opacity="0.92"/><circle cx="89.7" cy="274.7" r="1.1" fill="#6446ca" opacity="0.92"/><circle cx="84.9" cy="266.6" r="1.3" fill="#6446ca" opacity="0.92"/><circle cx="44.4" cy="280.5" r="1.5" fill="#5e42c6" opacity="0.92"/><circle cx="61.0" cy="283.3" r="0.6" fill="#6a4ece" opacity="0.92"/><circle cx="72.9" cy="273.4" r="1.7" fill="#6446ca" opacity="0.92"/><circle cx="63.9" cy="278.7" r="1.0" fill="#6a4ece" opacity="0.92"/><circle cx="58.6" cy="264.7" r="0.8" fill="#5538bc" opacity="0.92"/><circle cx="54.2" cy="260.4" r="0.9" fill="#5538bc" opacity="0.92"/><circle cx="52.7" cy="283.5" r="2.1" fill="#6446ca" opacity="0.92"/><circle cx="71.9" cy="253.3" r="0.9" fill="#6a4ece" opacity="0.92"/><circle cx="48.4" cy="289.7" r="1.1" fill="#6a4ece" opacity="0.92"/><circle cx="76.7" cy="290.4" r="0.6" fill="#5e42c6" opacity="0.92"/><circle cx="77.7" cy="271.3" r="0.8" fill="#5e42c6" opacity="0.92"/><circle cx="50.3" cy="280.2" r="0.9" fill="#6446ca" opacity="0.92"/><circle cx="49.4" cy="289.1" r="2.1" fill="#5538bc" opacity="0.92"/><circle cx="58.7" cy="251.2" r="1.7" fill="#6446ca" opacity="0.92"/><circle cx="53.3" cy="298.3" r="1.0" fill="#5e42c6" opacity="0.92"/><circle cx="57.7" cy="262.7" r="1.1" fill="#5538bc" opacity="0.92"/><circle cx="51.8" cy="259.2" r="2.1" fill="#6a4ece" opacity="0.92"/><circle cx="54.1" cy="282.5" r="1.0" fill="#6a4ece" opacity="0.92"/><circle cx="68.5" cy="251.8" r="2.1" fill="#5e42c6" opacity="0.92"/><circle cx="43.5" cy="283.0" r="2.1" fill="#5538bc" opacity="0.92"/><circle cx="85.9" cy="270.0" r="0.9" fill="#6446ca" opacity="0.92"/><circle cx="63.1" cy="298.9" r="1.3" fill="#5e42c6" opacity="0.92"/><circle cx="70.2" cy="288.7" r="1.1" fill="#6a4ece" opacity="0.92"/><circle cx="44.9" cy="290.9" r="0.9" fill="#5e42c6" opacity="0.92"/><circle cx="42.1" cy="289.6" r="1.2" fill="#6a4ece" opacity="0.92"/><circle cx="52.4" cy="279.5" r="0.6" fill="#6446ca" opacity="0.92"/><circle cx="42.9" cy="269.0" r="1.5" fill="#5538bc" opacity="0.92"/><circle cx="42.5" cy="280.8" r="0.9" fill="#5e42c6" opacity="0.92"/><circle cx="59.7" cy="251.4" r="2.1" fill="#5e42c6" opacity="0.92"/><circle cx="69.9" cy="301.1" r="0.7" fill="#5538bc" opacity="0.92"/><circle cx="40.3" cy="270.2" r="1.1" fill="#5538bc" opacity="0.92"/><circle cx="85.4" cy="262.2" r="1.1" fill="#5e42c6" opacity="0.92"/><circle cx="79.6" cy="279.5" r="1.2" fill="#5538bc" opacity="0.92"/><circle cx="59.4" cy="276.2" r="0.7" fill="#6446ca" opacity="0.92"/></g>
<circle cx="127.3" cy="276.7" r="31.5" fill="#e8e7e8"/>
<circle cx="127.3" cy="276.7" r="29.5" fill="#e6e5e8"/>
<g filter="url(#bl2)"><ellipse cx="134.9" cy="264.7" rx="18.9" ry="12.6" fill="#ecebef" stroke="#f3f3f5" stroke-width="0.8"/><ellipse cx="134.2" cy="289.3" rx="19.5" ry="13.2" fill="#ecebef" stroke="#f3f3f5" stroke-width="0.8"/></g>
<circle cx="127.3" cy="276.7" r="31.2" fill="none" stroke="#cdcccb" stroke-width="0.7"/>
<circle cx="127.3" cy="276.7" r="29.5" fill="none" stroke="#d6d5da" stroke-width="0.6"/>
<g filter="url(#bl1)"><circle cx="131.0" cy="265.4" r="0.7" fill="#6a4ece" opacity="0.85"/><circle cx="99.3" cy="281.9" r="1.2" fill="#6446ca" opacity="0.85"/><circle cx="146.2" cy="270.0" r="1.2" fill="#5e42c6" opacity="0.85"/><circle cx="128.2" cy="257.8" r="1.0" fill="#5538bc" opacity="0.85"/><circle cx="137.7" cy="258.1" r="0.6" fill="#5538bc" opacity="0.85"/><circle cx="120.6" cy="293.0" r="1.0" fill="#6a4ece" opacity="0.85"/><circle cx="123.7" cy="286.8" r="1.0" fill="#5538bc" opacity="0.85"/><circle cx="115.8" cy="271.0" r="1.0" fill="#5e42c6" opacity="0.85"/><circle cx="105.1" cy="276.3" r="0.5" fill="#5e42c6" opacity="0.85"/><circle cx="109.4" cy="274.9" r="1.0" fill="#5e42c6" opacity="0.85"/><circle cx="103.6" cy="278.0" r="0.5" fill="#6446ca" opacity="0.85"/><circle cx="103.4" cy="291.1" r="0.8" fill="#5538bc" opacity="0.85"/><circle cx="127.8" cy="296.7" r="0.7" fill="#6446ca" opacity="0.85"/><circle cx="149.7" cy="260.6" r="0.8" fill="#5538bc" opacity="0.85"/><circle cx="141.6" cy="288.3" r="0.5" fill="#5538bc" opacity="0.85"/><circle cx="144.6" cy="295.0" r="0.5" fill="#5e42c6" opacity="0.85"/><circle cx="132.0" cy="289.5" r="1.2" fill="#5538bc" opacity="0.85"/></g>
<circle cx="192.5" cy="278.6" r="32.6" fill="#e8e7e8"/>
<circle cx="192.5" cy="278.6" r="30.6" fill="#e6e5e8"/>
<g filter="url(#bl2)"><ellipse cx="200.3" cy="266.2" rx="19.6" ry="13.0" fill="#ecebef" stroke="#f3f3f5" stroke-width="0.8"/><ellipse cx="199.7" cy="291.6" rx="20.2" ry="13.7" fill="#ecebef" stroke="#f3f3f5" stroke-width="0.8"/></g>
<circle cx="192.5" cy="278.6" r="32.300000000000004" fill="none" stroke="#cdcccb" stroke-width="0.7"/>
<circle cx="192.5" cy="278.6" r="30.6" fill="none" stroke="#d6d5da" stroke-width="0.6"/>
<g filter="url(#bl1)"><circle cx="184.8" cy="294.5" r="1.0" fill="#6446ca" opacity="0.85"/><circle cx="212.5" cy="294.1" r="0.5" fill="#5538bc" opacity="0.85"/><circle cx="187.5" cy="254.3" r="0.8" fill="#5e42c6" opacity="0.85"/><circle cx="179.0" cy="292.0" r="1.0" fill="#6a4ece" opacity="0.85"/><circle cx="165.8" cy="272.1" r="1.0" fill="#6a4ece" opacity="0.85"/><circle cx="165.7" cy="273.5" r="1.0" fill="#6a4ece" opacity="0.85"/><circle cx="195.3" cy="303.9" r="0.7" fill="#6a4ece" opacity="0.85"/><circle cx="185.8" cy="293.8" r="0.6" fill="#6a4ece" opacity="0.85"/><circle cx="194.8" cy="265.8" r="0.5" fill="#6a4ece" opacity="0.85"/><circle cx="200.8" cy="271.7" r="0.5" fill="#5538bc" opacity="0.85"/><circle cx="177.6" cy="291.2" r="0.8" fill="#6a4ece" opacity="0.85"/><circle cx="199.7" cy="300.9" r="0.5" fill="#5e42c6" opacity="0.85"/><circle cx="199.9" cy="301.9" r="0.7" fill="#5e42c6" opacity="0.85"/><circle cx="185.9" cy="256.0" r="0.7" fill="#6a4ece" opacity="0.85"/><circle cx="199.2" cy="259.2" r="0.5" fill="#5e42c6" opacity="0.85"/><circle cx="194.2" cy="255.5" r="1.0" fill="#6446ca" opacity="0.85"/><circle cx="200.2" cy="288.7" r="0.6" fill="#6a4ece" opacity="0.85"/></g>
<circle cx="64.0" cy="338.4" r="30.3" fill="#e4e2e2"/>
<circle cx="64.0" cy="338.4" r="28.3" fill="#dedbe6"/>
<circle cx="64.0" cy="338.4" r="30.0" fill="none" stroke="#cbc8c0" stroke-width="0.7"/>
<circle cx="64.0" cy="338.4" r="28.3" fill="none" stroke="#d2d0d8" stroke-width="0.6"/>
<g filter="url(#bl1)"><circle cx="78.6" cy="315.5" r="1.3" fill="#8a7ad6" opacity="0.45"/><circle cx="69.6" cy="342.2" r="1.3" fill="#8a7ad6" opacity="0.45"/><circle cx="40.8" cy="344.0" r="1.0" fill="#8a7ad6" opacity="0.45"/><circle cx="50.2" cy="349.7" r="1.0" fill="#8a7ad6" opacity="0.45"/><circle cx="44.8" cy="347.4" r="0.8" fill="#8a7ad6" opacity="0.45"/><circle cx="60.3" cy="334.3" r="0.8" fill="#8a7ad6" opacity="0.45"/><circle cx="71.7" cy="355.1" r="1.3" fill="#8a7ad6" opacity="0.45"/><circle cx="46.0" cy="357.5" r="1.3" fill="#8a7ad6" opacity="0.45"/><circle cx="73.9" cy="355.2" r="0.8" fill="#8a7ad6" opacity="0.45"/><circle cx="60.4" cy="345.5" r="1.3" fill="#8a7ad6" opacity="0.45"/><circle cx="82.5" cy="320.1" r="1.0" fill="#8a7ad6" opacity="0.45"/><circle cx="53.2" cy="333.3" r="1.3" fill="#8a7ad6" opacity="0.45"/><circle cx="88.3" cy="335.7" r="1.0" fill="#8a7ad6" opacity="0.45"/><circle cx="62.3" cy="347.5" r="1.3" fill="#8a7ad6" opacity="0.45"/><circle cx="68.3" cy="314.1" r="1.0" fill="#8a7ad6" opacity="0.45"/><circle cx="74.5" cy="350.0" r="1.3" fill="#8a7ad6" opacity="0.45"/><circle cx="55.9" cy="315.9" r="0.8" fill="#8a7ad6" opacity="0.45"/><circle cx="44.7" cy="351.4" r="0.8" fill="#8a7ad6" opacity="0.45"/><circle cx="68.4" cy="324.1" r="0.8" fill="#8a7ad6" opacity="0.45"/><circle cx="80.2" cy="339.5" r="1.3" fill="#8a7ad6" opacity="0.45"/><circle cx="69.0" cy="334.9" r="1.0" fill="#8a7ad6" opacity="0.45"/><circle cx="84.9" cy="330.8" r="1.0" fill="#8a7ad6" opacity="0.45"/><circle cx="67.7" cy="355.4" r="0.8" fill="#5e42c6" opacity="0.92"/><circle cx="43.0" cy="355.9" r="2.1" fill="#6a4ece" opacity="0.92"/><circle cx="56.8" cy="315.7" r="1.7" fill="#5e42c6" opacity="0.92"/><circle cx="70.7" cy="344.3" r="0.9" fill="#5538bc" opacity="0.92"/><circle cx="45.8" cy="345.1" r="0.9" fill="#6446ca" opacity="0.92"/><circle cx="77.8" cy="339.3" r="1.0" fill="#5538bc" opacity="0.92"/><circle cx="45.5" cy="332.4" r="1.5" fill="#5e42c6" opacity="0.92"/><circle cx="48.1" cy="319.7" r="0.7" fill="#5e42c6" opacity="0.92"/><circle cx="44.0" cy="355.7" r="1.2" fill="#6446ca" opacity="0.92"/><circle cx="88.8" cy="333.7" r="1.5" fill="#5e42c6" opacity="0.92"/><circle cx="46.7" cy="346.6" r="1.0" fill="#6446ca" opacity="0.92"/><circle cx="50.5" cy="328.9" r="1.0" fill="#6446ca" opacity="0.92"/><circle cx="52.5" cy="321.5" r="1.0" fill="#5538bc" opacity="0.92"/><circle cx="87.7" cy="342.4" r="1.7" fill="#5e42c6" opacity="0.92"/><circle cx="52.3" cy="325.5" r="2.1" fill="#6446ca" opacity="0.92"/><circle cx="78.5" cy="343.4" r="1.2" fill="#5e42c6" opacity="0.92"/><circle cx="43.8" cy="327.0" r="1.1" fill="#5e42c6" opacity="0.92"/><circle cx="67.8" cy="326.1" r="1.3" fill="#5538bc" opacity="0.92"/><circle cx="77.3" cy="336.1" r="1.5" fill="#5e42c6" opacity="0.92"/><circle cx="85.4" cy="329.5" r="1.3" fill="#6a4ece" opacity="0.92"/><circle cx="88.5" cy="335.1" r="1.7" fill="#5e42c6" opacity="0.92"/><circle cx="80.8" cy="343.9" r="0.7" fill="#6a4ece" opacity="0.92"/><circle cx="74.5" cy="325.9" r="0.8" fill="#5e42c6" opacity="0.92"/><circle cx="57.3" cy="346.1" r="1.2" fill="#6446ca" opacity="0.92"/><circle cx="46.4" cy="325.5" r="2.1" fill="#6446ca" opacity="0.92"/><circle cx="48.5" cy="356.2" r="0.8" fill="#5538bc" opacity="0.92"/><circle cx="62.7" cy="325.1" r="0.7" fill="#5538bc" opacity="0.92"/><circle cx="68.6" cy="317.3" r="1.1" fill="#5538bc" opacity="0.92"/><circle cx="61.0" cy="360.8" r="1.7" fill="#6a4ece" opacity="0.92"/><circle cx="48.1" cy="320.8" r="0.9" fill="#6a4ece" opacity="0.92"/><circle cx="41.9" cy="338.1" r="0.9" fill="#5e42c6" opacity="0.92"/><circle cx="62.2" cy="336.5" r="1.0" fill="#6446ca" opacity="0.92"/><circle cx="69.2" cy="339.3" r="0.9" fill="#5538bc" opacity="0.92"/><circle cx="71.2" cy="341.9" r="2.1" fill="#6a4ece" opacity="0.92"/><circle cx="43.4" cy="331.6" r="1.1" fill="#6446ca" opacity="0.92"/><circle cx="51.6" cy="340.1" r="1.1" fill="#6446ca" opacity="0.92"/><circle cx="63.2" cy="313.4" r="0.7" fill="#5e42c6" opacity="0.92"/><circle cx="40.6" cy="346.4" r="0.9" fill="#6446ca" opacity="0.92"/><circle cx="51.7" cy="344.7" r="0.8" fill="#5538bc" opacity="0.92"/><circle cx="78.2" cy="358.9" r="1.7" fill="#5538bc" opacity="0.92"/><circle cx="58.0" cy="361.4" r="0.8" fill="#6446ca" opacity="0.92"/><circle cx="52.2" cy="321.3" r="1.3" fill="#5538bc" opacity="0.92"/><circle cx="70.9" cy="342.1" r="1.7" fill="#6446ca" opacity="0.92"/><circle cx="71.4" cy="321.4" r="0.6" fill="#5e42c6" opacity="0.92"/><circle cx="54.4" cy="362.6" r="1.7" fill="#5e42c6" opacity="0.92"/><circle cx="57.5" cy="320.3" r="1.1" fill="#5538bc" opacity="0.92"/><circle cx="73.4" cy="329.8" r="2.1" fill="#5538bc" opacity="0.92"/><circle cx="57.8" cy="345.4" r="1.3" fill="#5538bc" opacity="0.92"/><circle cx="41.4" cy="347.7" r="1.0" fill="#6446ca" opacity="0.92"/><circle cx="56.9" cy="354.1" r="1.5" fill="#6a4ece" opacity="0.92"/><circle cx="85.4" cy="351.0" r="0.6" fill="#5538bc" opacity="0.92"/><circle cx="54.8" cy="319.7" r="0.9" fill="#5538bc" opacity="0.92"/><circle cx="69.9" cy="319.2" r="1.7" fill="#6a4ece" opacity="0.92"/><circle cx="74.6" cy="359.7" r="1.0" fill="#5e42c6" opacity="0.92"/><circle cx="65.2" cy="344.9" r="0.8" fill="#5538bc" opacity="0.92"/><circle cx="85.5" cy="333.8" r="1.2" fill="#5e42c6" opacity="0.92"/><circle cx="50.9" cy="331.0" r="1.5" fill="#5e42c6" opacity="0.92"/><circle cx="56.8" cy="350.7" r="0.7" fill="#5538bc" opacity="0.92"/><circle cx="82.7" cy="349.4" r="0.8" fill="#5e42c6" opacity="0.92"/><circle cx="63.4" cy="316.4" r="0.9" fill="#6a4ece" opacity="0.92"/><circle cx="38.1" cy="340.2" r="1.1" fill="#6446ca" opacity="0.92"/><circle cx="51.5" cy="348.2" r="1.1" fill="#6a4ece" opacity="0.92"/><circle cx="44.0" cy="339.2" r="0.7" fill="#5e42c6" opacity="0.92"/><circle cx="43.0" cy="351.6" r="2.1" fill="#5538bc" opacity="0.92"/><circle cx="78.8" cy="318.9" r="0.7" fill="#6446ca" opacity="0.92"/><circle cx="85.1" cy="332.7" r="1.5" fill="#5538bc" opacity="0.92"/><circle cx="57.9" cy="314.7" r="1.2" fill="#6446ca" opacity="0.92"/><circle cx="75.7" cy="331.6" r="0.8" fill="#6446ca" opacity="0.92"/><circle cx="57.8" cy="324.2" r="1.2" fill="#6446ca" opacity="0.92"/><circle cx="49.9" cy="335.8" r="0.6" fill="#6446ca" opacity="0.92"/><circle cx="60.7" cy="347.0" r="2.1" fill="#6a4ece" opacity="0.92"/><circle cx="65.9" cy="327.0" r="0.6" fill="#6446ca" opacity="0.92"/></g>
<circle cx="128.5" cy="339.1" r="31.2" fill="#e8e7e8"/>
<circle cx="128.5" cy="339.1" r="29.2" fill="#e6e5e8"/>
<g filter="url(#bl2)"><ellipse cx="136.0" cy="327.2" rx="18.7" ry="12.5" fill="#ecebef" stroke="#f3f3f5" stroke-width="0.8"/><ellipse cx="135.4" cy="351.6" rx="19.3" ry="13.1" fill="#ecebef" stroke="#f3f3f5" stroke-width="0.8"/></g>
<circle cx="128.5" cy="339.1" r="30.9" fill="none" stroke="#cdcccb" stroke-width="0.7"/>
<circle cx="128.5" cy="339.1" r="29.2" fill="none" stroke="#d6d5da" stroke-width="0.6"/>
<g filter="url(#bl1)"><circle cx="147.9" cy="341.2" r="0.5" fill="#5538bc" opacity="0.85"/><circle cx="137.9" cy="346.7" r="0.6" fill="#6a4ece" opacity="0.85"/><circle cx="112.8" cy="327.7" r="1.0" fill="#6a4ece" opacity="0.85"/><circle cx="103.6" cy="348.6" r="0.8" fill="#6a4ece" opacity="0.85"/><circle cx="151.6" cy="324.6" r="1.2" fill="#6446ca" opacity="0.85"/><circle cx="140.4" cy="323.5" r="0.8" fill="#5538bc" opacity="0.85"/><circle cx="115.3" cy="318.2" r="0.5" fill="#6446ca" opacity="0.85"/><circle cx="140.1" cy="325.6" r="0.6" fill="#6a4ece" opacity="0.85"/><circle cx="134.1" cy="322.5" r="1.0" fill="#5538bc" opacity="0.85"/><circle cx="130.1" cy="332.5" r="0.6" fill="#5e42c6" opacity="0.85"/><circle cx="147.4" cy="320.0" r="0.8" fill="#6a4ece" opacity="0.85"/><circle cx="123.5" cy="317.7" r="0.6" fill="#6446ca" opacity="0.85"/><circle cx="137.3" cy="352.4" r="0.7" fill="#6a4ece" opacity="0.85"/><circle cx="110.2" cy="317.8" r="0.7" fill="#5e42c6" opacity="0.85"/><circle cx="143.0" cy="359.2" r="0.5" fill="#6a4ece" opacity="0.85"/><circle cx="139.8" cy="315.7" r="0.6" fill="#5e42c6" opacity="0.85"/><circle cx="115.3" cy="356.8" r="1.0" fill="#5e42c6" opacity="0.85"/></g>
<circle cx="192.6" cy="342.3" r="31.5" fill="#e8e7e8"/>
<circle cx="192.6" cy="342.3" r="29.5" fill="#e6e5e8"/>
<g filter="url(#bl2)"><ellipse cx="200.2" cy="330.3" rx="18.9" ry="12.6" fill="#ecebef" stroke="#f3f3f5" stroke-width="0.8"/><ellipse cx="199.5" cy="354.9" rx="19.5" ry="13.2" fill="#ecebef" stroke="#f3f3f5" stroke-width="0.8"/></g>
<circle cx="192.6" cy="342.3" r="31.2" fill="none" stroke="#cdcccb" stroke-width="0.7"/>
<circle cx="192.6" cy="342.3" r="29.5" fill="none" stroke="#d6d5da" stroke-width="0.6"/>
<g filter="url(#bl1)"><circle cx="210.9" cy="327.1" r="0.5" fill="#5538bc" opacity="0.85"/><circle cx="204.9" cy="343.8" r="0.6" fill="#5e42c6" opacity="0.85"/><circle cx="196.3" cy="323.8" r="0.5" fill="#6446ca" opacity="0.85"/><circle cx="181.4" cy="340.5" r="0.7" fill="#5538bc" opacity="0.85"/><circle cx="189.7" cy="349.6" r="0.7" fill="#6446ca" opacity="0.85"/><circle cx="188.9" cy="335.9" r="0.5" fill="#6a4ece" opacity="0.85"/><circle cx="206.7" cy="353.3" r="0.8" fill="#5e42c6" opacity="0.85"/><circle cx="190.8" cy="339.7" r="0.8" fill="#6446ca" opacity="0.85"/><circle cx="194.3" cy="363.6" r="0.8" fill="#5e42c6" opacity="0.85"/><circle cx="208.8" cy="321.7" r="1.2" fill="#6a4ece" opacity="0.85"/><circle cx="201.7" cy="335.9" r="1.2" fill="#6446ca" opacity="0.85"/><circle cx="215.4" cy="332.8" r="0.7" fill="#6446ca" opacity="0.85"/><circle cx="184.7" cy="339.4" r="0.6" fill="#6a4ece" opacity="0.85"/><circle cx="185.9" cy="348.9" r="0.7" fill="#5538bc" opacity="0.85"/><circle cx="170.2" cy="333.0" r="0.7" fill="#6446ca" opacity="0.85"/><circle cx="196.6" cy="334.6" r="0.6" fill="#5e42c6" opacity="0.85"/><circle cx="207.9" cy="358.9" r="0.6" fill="#6a4ece" opacity="0.85"/></g>
<circle cx="64.0" cy="401.1" r="30.6" fill="#e4e2e2"/>
<circle cx="64.0" cy="401.1" r="28.6" fill="#dedbe6"/>
<circle cx="64.0" cy="401.1" r="30.3" fill="none" stroke="#cbc8c0" stroke-width="0.7"/>
<circle cx="64.0" cy="401.1" r="28.6" fill="none" stroke="#d2d0d8" stroke-width="0.6"/>
<g filter="url(#bl1)"><circle cx="65.8" cy="406.0" r="1.0" fill="#8a7ad6" opacity="0.45"/><circle cx="57.1" cy="396.5" r="0.8" fill="#8a7ad6" opacity="0.45"/><circle cx="90.9" cy="406.6" r="1.0" fill="#8a7ad6" opacity="0.45"/><circle cx="57.8" cy="405.2" r="1.0" fill="#8a7ad6" opacity="0.45"/><circle cx="73.2" cy="396.5" r="0.8" fill="#8a7ad6" opacity="0.45"/><circle cx="66.6" cy="376.2" r="1.0" fill="#8a7ad6" opacity="0.45"/><circle cx="37.7" cy="404.0" r="1.3" fill="#8a7ad6" opacity="0.45"/><circle cx="81.4" cy="402.8" r="1.3" fill="#8a7ad6" opacity="0.45"/><circle cx="53.9" cy="423.4" r="0.8" fill="#8a7ad6" opacity="0.45"/><circle cx="52.5" cy="382.9" r="0.8" fill="#8a7ad6" opacity="0.45"/><circle cx="63.2" cy="413.1" r="1.0" fill="#8a7ad6" opacity="0.45"/><circle cx="58.7" cy="393.8" r="1.0" fill="#8a7ad6" opacity="0.45"/><circle cx="68.5" cy="416.4" r="1.0" fill="#8a7ad6" opacity="0.45"/><circle cx="73.8" cy="381.9" r="0.8" fill="#8a7ad6" opacity="0.45"/><circle cx="63.5" cy="421.4" r="1.0" fill="#8a7ad6" opacity="0.45"/><circle cx="48.4" cy="396.2" r="1.3" fill="#8a7ad6" opacity="0.45"/><circle cx="43.2" cy="399.3" r="0.8" fill="#8a7ad6" opacity="0.45"/><circle cx="83.8" cy="399.5" r="1.3" fill="#8a7ad6" opacity="0.45"/><circle cx="56.8" cy="375.4" r="1.3" fill="#8a7ad6" opacity="0.45"/><circle cx="84.6" cy="393.7" r="0.8" fill="#8a7ad6" opacity="0.45"/><circle cx="65.7" cy="391.1" r="1.0" fill="#8a7ad6" opacity="0.45"/><circle cx="43.6" cy="390.4" r="1.0" fill="#8a7ad6" opacity="0.45"/><circle cx="85.6" cy="415.2" r="1.0" fill="#6446ca" opacity="0.92"/><circle cx="77.8" cy="388.6" r="0.8" fill="#6a4ece" opacity="0.92"/><circle cx="80.8" cy="389.6" r="1.5" fill="#5e42c6" opacity="0.92"/><circle cx="50.8" cy="395.8" r="1.1" fill="#6a4ece" opacity="0.92"/><circle cx="82.0" cy="418.6" r="1.0" fill="#5538bc" opacity="0.92"/><circle cx="65.2" cy="422.0" r="0.8" fill="#6a4ece" opacity="0.92"/><circle cx="43.7" cy="386.8" r="1.3" fill="#5e42c6" opacity="0.92"/><circle cx="43.9" cy="415.0" r="2.1" fill="#6a4ece" opacity="0.92"/><circle cx="56.0" cy="422.2" r="1.2" fill="#5e42c6" opacity="0.92"/><circle cx="73.6" cy="416.0" r="0.6" fill="#6a4ece" opacity="0.92"/><circle cx="54.7" cy="399.4" r="1.2" fill="#6a4ece" opacity="0.92"/><circle cx="58.8" cy="409.7" r="0.9" fill="#5538bc" opacity="0.92"/><circle cx="87.1" cy="409.2" r="2.1" fill="#6a4ece" opacity="0.92"/><circle cx="48.0" cy="412.2" r="0.7" fill="#6446ca" opacity="0.92"/><circle cx="49.2" cy="422.7" r="1.7" fill="#6446ca" opacity="0.92"/><circle cx="64.2" cy="381.9" r="1.3" fill="#6446ca" opacity="0.92"/><circle cx="68.3" cy="392.7" r="0.7" fill="#5538bc" opacity="0.92"/><circle cx="46.1" cy="398.3" r="0.6" fill="#5538bc" opacity="0.92"/><circle cx="76.5" cy="392.8" r="1.7" fill="#6446ca" opacity="0.92"/><circle cx="61.6" cy="379.9" r="1.0" fill="#5e42c6" opacity="0.92"/><circle cx="64.9" cy="426.4" r="0.9" fill="#6446ca" opacity="0.92"/><circle cx="82.8" cy="397.8" r="0.7" fill="#6a4ece" opacity="0.92"/><circle cx="42.5" cy="394.9" r="0.9" fill="#5e42c6" opacity="0.92"/><circle cx="87.6" cy="401.0" r="2.1" fill="#5538bc" opacity="0.92"/><circle cx="76.0" cy="387.8" r="0.8" fill="#6a4ece" opacity="0.92"/><circle cx="53.4" cy="386.6" r="0.7" fill="#5e42c6" opacity="0.92"/><circle cx="84.0" cy="415.4" r="0.7" fill="#6446ca" opacity="0.92"/><circle cx="77.6" cy="401.1" r="1.0" fill="#5e42c6" opacity="0.92"/><circle cx="60.9" cy="407.3" r="1.3" fill="#6446ca" opacity="0.92"/><circle cx="78.5" cy="418.9" r="0.9" fill="#5e42c6" opacity="0.92"/><circle cx="57.6" cy="418.6" r="1.1" fill="#5538bc" opacity="0.92"/><circle cx="59.3" cy="410.4" r="1.3" fill="#6a4ece" opacity="0.92"/><circle cx="71.5" cy="425.6" r="0.6" fill="#6a4ece" opacity="0.92"/><circle cx="53.7" cy="424.5" r="1.3" fill="#5e42c6" opacity="0.92"/><circle cx="76.2" cy="423.9" r="1.5" fill="#6a4ece" opacity="0.92"/><circle cx="50.9" cy="398.3" r="0.6" fill="#5e42c6" opacity="0.92"/><circle cx="55.4" cy="424.5" r="1.0" fill="#6446ca" opacity="0.92"/><circle cx="61.7" cy="391.2" r="1.3" fill="#6446ca" opacity="0.92"/><circle cx="75.5" cy="407.3" r="1.0" fill="#5e42c6" opacity="0.92"/><circle cx="61.0" cy="389.2" r="0.8" fill="#6a4ece" opacity="0.92"/><circle cx="49.0" cy="401.0" r="1.0" fill="#5538bc" opacity="0.92"/><circle cx="70.6" cy="382.2" r="0.7" fill="#6a4ece" opacity="0.92"/><circle cx="89.8" cy="397.4" r="0.8" fill="#6a4ece" opacity="0.92"/><circle cx="60.3" cy="422.9" r="0.7" fill="#6446ca" opacity="0.92"/><circle cx="82.2" cy="399.2" r="1.5" fill="#5e42c6" opacity="0.92"/><circle cx="58.2" cy="400.0" r="1.7" fill="#5538bc" opacity="0.92"/><circle cx="46.5" cy="396.9" r="1.7" fill="#5e42c6" opacity="0.92"/><circle cx="78.0" cy="424.7" r="0.9" fill="#6a4ece" opacity="0.92"/><circle cx="74.2" cy="422.5" r="0.6" fill="#6a4ece" opacity="0.92"/><circle cx="66.7" cy="390.7" r="0.6" fill="#6446ca" opacity="0.92"/><circle cx="82.3" cy="390.5" r="0.6" fill="#6446ca" opacity="0.92"/><circle cx="70.5" cy="403.7" r="2.1" fill="#5538bc" opacity="0.92"/><circle cx="55.7" cy="418.4" r="0.6" fill="#5538bc" opacity="0.92"/><circle cx="38.6" cy="400.2" r="2.1" fill="#6a4ece" opacity="0.92"/><circle cx="43.9" cy="387.6" r="0.7" fill="#6446ca" opacity="0.92"/><circle cx="65.7" cy="419.3" r="1.0" fill="#6a4ece" opacity="0.92"/><circle cx="62.8" cy="421.4" r="1.7" fill="#6446ca" opacity="0.92"/><circle cx="63.1" cy="413.5" r="0.6" fill="#6446ca" opacity="0.92"/><circle cx="72.2" cy="392.7" r="0.8" fill="#5e42c6" opacity="0.92"/><circle cx="44.8" cy="385.5" r="1.5" fill="#6446ca" opacity="0.92"/><circle cx="59.7" cy="375.9" r="0.6" fill="#5e42c6" opacity="0.92"/><circle cx="72.8" cy="408.8" r="2.1" fill="#6a4ece" opacity="0.92"/><circle cx="59.4" cy="396.6" r="1.2" fill="#5e42c6" opacity="0.92"/><circle cx="55.6" cy="377.6" r="1.5" fill="#5538bc" opacity="0.92"/><circle cx="65.9" cy="381.7" r="2.1" fill="#6a4ece" opacity="0.92"/><circle cx="54.0" cy="410.6" r="1.3" fill="#6446ca" opacity="0.92"/><circle cx="80.4" cy="407.7" r="1.1" fill="#6a4ece" opacity="0.92"/><circle cx="56.3" cy="375.2" r="0.8" fill="#6446ca" opacity="0.92"/><circle cx="64.7" cy="379.7" r="0.8" fill="#6a4ece" opacity="0.92"/><circle cx="63.3" cy="381.2" r="0.6" fill="#5e42c6" opacity="0.92"/><circle cx="65.5" cy="427.1" r="0.8" fill="#5e42c6" opacity="0.92"/><circle cx="52.2" cy="410.5" r="1.2" fill="#5e42c6" opacity="0.92"/></g>
<circle cx="128.2" cy="401.3" r="30.7" fill="#e8e7e8"/>
<circle cx="128.2" cy="401.3" r="28.7" fill="#e6e5e8"/>
<g filter="url(#bl2)"><ellipse cx="135.6" cy="389.6" rx="18.4" ry="12.3" fill="#ecebef" stroke="#f3f3f5" stroke-width="0.8"/><ellipse cx="135.0" cy="413.6" rx="19.0" ry="12.9" fill="#ecebef" stroke="#f3f3f5" stroke-width="0.8"/></g>
<circle cx="128.2" cy="401.3" r="30.4" fill="none" stroke="#cdcccb" stroke-width="0.7"/>
<circle cx="128.2" cy="401.3" r="28.7" fill="none" stroke="#d6d5da" stroke-width="0.6"/>
<g filter="url(#bl1)"><circle cx="150.7" cy="397.3" r="1.2" fill="#6a4ece" opacity="0.85"/><circle cx="125.5" cy="410.5" r="0.6" fill="#6446ca" opacity="0.85"/><circle cx="102.2" cy="407.7" r="0.7" fill="#5538bc" opacity="0.85"/><circle cx="113.9" cy="424.7" r="1.0" fill="#6a4ece" opacity="0.85"/><circle cx="145.2" cy="405.6" r="1.2" fill="#5e42c6" opacity="0.85"/><circle cx="126.6" cy="380.5" r="1.0" fill="#6a4ece" opacity="0.85"/><circle cx="111.3" cy="405.3" r="0.6" fill="#6446ca" opacity="0.85"/><circle cx="123.8" cy="405.5" r="0.8" fill="#5538bc" opacity="0.85"/><circle cx="128.7" cy="426.0" r="0.6" fill="#6446ca" opacity="0.85"/><circle cx="131.9" cy="413.6" r="0.8" fill="#5538bc" opacity="0.85"/><circle cx="109.1" cy="404.6" r="1.2" fill="#6a4ece" opacity="0.85"/><circle cx="136.4" cy="391.8" r="0.8" fill="#6446ca" opacity="0.85"/><circle cx="148.9" cy="411.5" r="0.7" fill="#5538bc" opacity="0.85"/><circle cx="113.7" cy="387.6" r="1.2" fill="#5538bc" opacity="0.85"/><circle cx="107.4" cy="399.7" r="1.2" fill="#6a4ece" opacity="0.85"/><circle cx="126.3" cy="417.8" r="0.6" fill="#5538bc" opacity="0.85"/><circle cx="137.1" cy="411.6" r="0.5" fill="#5e42c6" opacity="0.85"/></g>
<circle cx="192.3" cy="404.4" r="31.3" fill="#e8e7e8"/>
<circle cx="192.3" cy="404.4" r="29.3" fill="#e6e5e8"/>
<g filter="url(#bl2)"><ellipse cx="199.8" cy="392.5" rx="18.8" ry="12.5" fill="#ecebef" stroke="#f3f3f5" stroke-width="0.8"/><ellipse cx="199.2" cy="416.9" rx="19.4" ry="13.1" fill="#ecebef" stroke="#f3f3f5" stroke-width="0.8"/></g>
<circle cx="192.3" cy="404.4" r="31.0" fill="none" stroke="#cdcccb" stroke-width="0.7"/>
<circle cx="192.3" cy="404.4" r="29.3" fill="none" stroke="#d6d5da" stroke-width="0.6"/>
<g filter="url(#bl1)"><circle cx="218.2" cy="404.1" r="0.8" fill="#5e42c6" opacity="0.85"/><circle cx="203.0" cy="390.6" r="0.7" fill="#5e42c6" opacity="0.85"/><circle cx="185.2" cy="425.3" r="0.8" fill="#5e42c6" opacity="0.85"/><circle cx="200.0" cy="423.2" r="0.6" fill="#5e42c6" opacity="0.85"/><circle cx="197.0" cy="421.9" r="0.8" fill="#6a4ece" opacity="0.85"/><circle cx="171.5" cy="402.2" r="0.7" fill="#6446ca" opacity="0.85"/><circle cx="186.8" cy="395.0" r="0.6" fill="#5538bc" opacity="0.85"/><circle cx="173.8" cy="400.3" r="0.6" fill="#6446ca" opacity="0.85"/><circle cx="175.5" cy="402.6" r="0.5" fill="#5538bc" opacity="0.85"/><circle cx="177.1" cy="420.5" r="0.6" fill="#5e42c6" opacity="0.85"/><circle cx="206.5" cy="384.5" r="0.8" fill="#5e42c6" opacity="0.85"/><circle cx="202.4" cy="378.3" r="0.7" fill="#5e42c6" opacity="0.85"/><circle cx="203.8" cy="398.0" r="1.2" fill="#5538bc" opacity="0.85"/><circle cx="178.5" cy="380.5" r="0.7" fill="#6a4ece" opacity="0.85"/><circle cx="195.3" cy="390.3" r="0.8" fill="#5e42c6" opacity="0.85"/><circle cx="186.9" cy="408.7" r="0.8" fill="#5538bc" opacity="0.85"/><circle cx="187.2" cy="427.6" r="0.6" fill="#6a4ece" opacity="0.85"/></g>
<text transform="translate(330.60 309.20) scale(1 1.05)" font-size="8.4" text-anchor="end" fill="#000" font-weight="normal" >shCtrl</text>
<text transform="translate(330.60 339.40) scale(1 1.05)" font-size="8.4" text-anchor="end" fill="#000" font-weight="normal" >shSFTA1P#2</text>
<text transform="translate(330.60 368.80) scale(1 1.05)" font-size="8.4" text-anchor="end" fill="#000" font-weight="normal" >shSFTA1P#1</text>
<rect x="338.80" y="264.30" width="219.60" height="144.10" fill="#f3ecea" stroke="none" stroke-width="0" />
<rect x="367.00" y="372.80" width="191.60" height="35.60" fill="#f7f3f2" stroke="none" stroke-width="0" />
<rect x="367.00" y="264.30" width="191.60" height="108.50" fill="#74bfd6" stroke="none" stroke-width="0" />
<line x1="352.00" y1="279.10" x2="367.00" y2="279.10" stroke="#3a3636" stroke-width="1.0" />
<line x1="355.80" y1="281.66" x2="367.00" y2="281.66" stroke="#3a3636" stroke-width="1.0" />
<line x1="355.80" y1="284.22" x2="367.00" y2="284.22" stroke="#3a3636" stroke-width="1.0" />
<line x1="355.80" y1="286.78" x2="367.00" y2="286.78" stroke="#3a3636" stroke-width="1.0" />
<line x1="355.80" y1="289.34" x2="367.00" y2="289.34" stroke="#3a3636" stroke-width="1.0" />
<line x1="352.50" y1="291.90" x2="367.00" y2="291.90" stroke="#3a3636" stroke-width="1.0" />
<line x1="355.80" y1="294.46" x2="367.00" y2="294.46" stroke="#3a3636" stroke-width="1.0" />
<line x1="355.80" y1="297.02" x2="367.00" y2="297.02" stroke="#3a3636" stroke-width="1.0" />
<line x1="355.80" y1="299.58" x2="367.00" y2="299.58" stroke="#3a3636" stroke-width="1.0" />
<line x1="355.80" y1="302.14" x2="367.00" y2="302.14" stroke="#3a3636" stroke-width="1.0" />
<line x1="352.00" y1="304.70" x2="367.00" y2="304.70" stroke="#3a3636" stroke-width="1.0" />
<line x1="355.80" y1="307.26" x2="367.00" y2="307.26" stroke="#3a3636" stroke-width="1.0" />
<line x1="355.80" y1="309.82" x2="367.00" y2="309.82" stroke="#3a3636" stroke-width="1.0" />
<line x1="355.80" y1="312.38" x2="367.00" y2="312.38" stroke="#3a3636" stroke-width="1.0" />
<line x1="355.80" y1="314.94" x2="367.00" y2="314.94" stroke="#3a3636" stroke-width="1.0" />
<line x1="352.50" y1="317.50" x2="367.00" y2="317.50" stroke="#3a3636" stroke-width="1.0" />
<line x1="355.80" y1="320.06" x2="367.00" y2="320.06" stroke="#3a3636" stroke-width="1.0" />
<line x1="355.80" y1="322.62" x2="367.00" y2="322.62" stroke="#3a3636" stroke-width="1.0" />
<line x1="355.80" y1="325.18" x2="367.00" y2="325.18" stroke="#3a3636" stroke-width="1.0" />
<line x1="355.80" y1="327.74" x2="367.00" y2="327.74" stroke="#3a3636" stroke-width="1.0" />
<line x1="352.00" y1="330.30" x2="367.00" y2="330.30" stroke="#3a3636" stroke-width="1.0" />
<line x1="355.80" y1="332.86" x2="367.00" y2="332.86" stroke="#3a3636" stroke-width="1.0" />
<line x1="355.80" y1="335.42" x2="367.00" y2="335.42" stroke="#3a3636" stroke-width="1.0" />
<line x1="355.80" y1="337.98" x2="367.00" y2="337.98" stroke="#3a3636" stroke-width="1.0" />
<line x1="355.80" y1="340.54" x2="367.00" y2="340.54" stroke="#3a3636" stroke-width="1.0" />
<line x1="352.50" y1="343.10" x2="367.00" y2="343.10" stroke="#3a3636" stroke-width="1.0" />
<line x1="355.80" y1="345.66" x2="367.00" y2="345.66" stroke="#3a3636" stroke-width="1.0" />
<line x1="355.80" y1="348.22" x2="367.00" y2="348.22" stroke="#3a3636" stroke-width="1.0" />
<line x1="355.80" y1="350.78" x2="367.00" y2="350.78" stroke="#3a3636" stroke-width="1.0" />
<line x1="355.80" y1="353.34" x2="367.00" y2="353.34" stroke="#3a3636" stroke-width="1.0" />
<line x1="352.00" y1="355.90" x2="367.00" y2="355.90" stroke="#3a3636" stroke-width="1.0" />
<line x1="355.80" y1="358.46" x2="367.00" y2="358.46" stroke="#3a3636" stroke-width="1.0" />
<line x1="355.80" y1="361.02" x2="367.00" y2="361.02" stroke="#3a3636" stroke-width="1.0" />
<line x1="355.80" y1="363.58" x2="367.00" y2="363.58" stroke="#3a3636" stroke-width="1.0" />
<line x1="355.80" y1="366.14" x2="367.00" y2="366.14" stroke="#3a3636" stroke-width="1.0" />
<line x1="352.50" y1="368.70" x2="367.00" y2="368.70" stroke="#3a3636" stroke-width="1.0" />
<line x1="355.80" y1="371.26" x2="367.00" y2="371.26" stroke="#3a3636" stroke-width="1.0" />
<line x1="355.80" y1="373.82" x2="367.00" y2="373.82" stroke="#3a3636" stroke-width="1.0" />
<line x1="355.80" y1="376.38" x2="367.00" y2="376.38" stroke="#3a3636" stroke-width="1.0" />
<line x1="355.80" y1="378.94" x2="367.00" y2="378.94" stroke="#3a3636" stroke-width="1.0" />
<line x1="352.00" y1="381.50" x2="367.00" y2="381.50" stroke="#3a3636" stroke-width="1.0" />
<line x1="355.80" y1="384.06" x2="367.00" y2="384.06" stroke="#3a3636" stroke-width="1.0" />
<line x1="355.80" y1="386.62" x2="367.00" y2="386.62" stroke="#3a3636" stroke-width="1.0" />
<line x1="355.80" y1="389.18" x2="367.00" y2="389.18" stroke="#3a3636" stroke-width="1.0" />
<line x1="355.80" y1="391.74" x2="367.00" y2="391.74" stroke="#3a3636" stroke-width="1.0" />
<line x1="352.50" y1="394.30" x2="367.00" y2="394.30" stroke="#3a3636" stroke-width="1.0" />
<line x1="355.80" y1="396.86" x2="367.00" y2="396.86" stroke="#3a3636" stroke-width="1.0" />
<line x1="355.80" y1="399.42" x2="367.00" y2="399.42" stroke="#3a3636" stroke-width="1.0" />
<line x1="355.80" y1="401.98" x2="367.00" y2="401.98" stroke="#3a3636" stroke-width="1.0" />
<line x1="355.80" y1="404.54" x2="367.00" y2="404.54" stroke="#3a3636" stroke-width="1.0" />
<line x1="352.00" y1="407.10" x2="367.00" y2="407.10" stroke="#3a3636" stroke-width="1.0" />
<text x="346.40" y="279.10" font-size="7" text-anchor="middle" fill="#2a2a2a" font-weight="normal" transform="rotate(90 346.40 279.10)" dominant-baseline="central">0</text>
<circle cx="351.6" cy="291.9" r="1" fill="#f3ecea" stroke="#555" stroke-width="0.6"/>
<text x="346.40" y="304.70" font-size="7" text-anchor="middle" fill="#2a2a2a" font-weight="normal" transform="rotate(90 346.40 304.70)" dominant-baseline="central">1</text>
<circle cx="351.6" cy="317.5" r="1" fill="#f3ecea" stroke="#555" stroke-width="0.6"/>
<text x="346.40" y="330.30" font-size="7" text-anchor="middle" fill="#2a2a2a" font-weight="normal" transform="rotate(90 346.40 330.30)" dominant-baseline="central">2</text>
<circle cx="351.6" cy="343.1" r="1" fill="#f3ecea" stroke="#555" stroke-width="0.6"/>
<text x="346.40" y="355.90" font-size="7" text-anchor="middle" fill="#2a2a2a" font-weight="normal" transform="rotate(90 346.40 355.90)" dominant-baseline="central">3</text>
<circle cx="351.6" cy="368.7" r="1" fill="#f3ecea" stroke="#555" stroke-width="0.6"/>
<text x="346.40" y="381.50" font-size="7" text-anchor="middle" fill="#2a2a2a" font-weight="normal" transform="rotate(90 346.40 381.50)" dominant-baseline="central">4</text>
<circle cx="351.6" cy="394.3" r="1" fill="#f3ecea" stroke="#555" stroke-width="0.6"/>
<text x="346.40" y="407.10" font-size="7" text-anchor="middle" fill="#2a2a2a" font-weight="normal" transform="rotate(90 346.40 407.10)" dominant-baseline="central">5</text>
<text x="347.20" y="292.20" font-size="5.5" text-anchor="middle" fill="#222" font-weight="bold" transform="rotate(90 347.20 292.20)" dominant-baseline="central">CM</text>
<line x1="369.60" y1="372.80" x2="369.60" y2="389.00" stroke="#3a3636" stroke-width="1.0" />
<line x1="372.16" y1="372.80" x2="372.16" y2="385.00" stroke="#3a3636" stroke-width="1.0" />
<line x1="374.72" y1="372.80" x2="374.72" y2="385.00" stroke="#3a3636" stroke-width="1.0" />
<line x1="377.28" y1="372.80" x2="377.28" y2="385.00" stroke="#3a3636" stroke-width="1.0" />
<line x1="379.84" y1="372.80" x2="379.84" y2="385.00" stroke="#3a3636" stroke-width="1.0" />
<line x1="382.40" y1="372.80" x2="382.40" y2="396.40" stroke="#3a3636" stroke-width="1.0" />
<line x1="384.96" y1="372.80" x2="384.96" y2="385.00" stroke="#3a3636" stroke-width="1.0" />
<line x1="387.52" y1="372.80" x2="387.52" y2="385.00" stroke="#3a3636" stroke-width="1.0" />
<line x1="390.08" y1="372.80" x2="390.08" y2="385.00" stroke="#3a3636" stroke-width="1.0" />
<line x1="392.64" y1="372.80" x2="392.64" y2="385.00" stroke="#3a3636" stroke-width="1.0" />
<line x1="395.20" y1="372.80" x2="395.20" y2="389.00" stroke="#3a3636" stroke-width="1.0" />
<line x1="397.76" y1="372.80" x2="397.76" y2="385.00" stroke="#3a3636" stroke-width="1.0" />
<line x1="400.32" y1="372.80" x2="400.32" y2="385.00" stroke="#3a3636" stroke-width="1.0" />
<line x1="402.88" y1="372.80" x2="402.88" y2="385.00" stroke="#3a3636" stroke-width="1.0" />
<line x1="405.44" y1="372.80" x2="405.44" y2="385.00" stroke="#3a3636" stroke-width="1.0" />
<line x1="408.00" y1="372.80" x2="408.00" y2="396.40" stroke="#3a3636" stroke-width="1.0" />
<line x1="410.56" y1="372.80" x2="410.56" y2="385.00" stroke="#3a3636" stroke-width="1.0" />
<line x1="413.12" y1="372.80" x2="413.12" y2="385.00" stroke="#3a3636" stroke-width="1.0" />
<line x1="415.68" y1="372.80" x2="415.68" y2="385.00" stroke="#3a3636" stroke-width="1.0" />
<line x1="418.24" y1="372.80" x2="418.24" y2="385.00" stroke="#3a3636" stroke-width="1.0" />
<line x1="420.80" y1="372.80" x2="420.80" y2="389.00" stroke="#3a3636" stroke-width="1.0" />
<line x1="423.36" y1="372.80" x2="423.36" y2="385.00" stroke="#3a3636" stroke-width="1.0" />
<line x1="425.92" y1="372.80" x2="425.92" y2="385.00" stroke="#3a3636" stroke-width="1.0" />
<line x1="428.48" y1="372.80" x2="428.48" y2="385.00" stroke="#3a3636" stroke-width="1.0" />
<line x1="431.04" y1="372.80" x2="431.04" y2="385.00" stroke="#3a3636" stroke-width="1.0" />
<line x1="433.60" y1="372.80" x2="433.60" y2="396.40" stroke="#3a3636" stroke-width="1.0" />
<line x1="436.16" y1="372.80" x2="436.16" y2="385.00" stroke="#3a3636" stroke-width="1.0" />
<line x1="438.72" y1="372.80" x2="438.72" y2="385.00" stroke="#3a3636" stroke-width="1.0" />
<line x1="441.28" y1="372.80" x2="441.28" y2="385.00" stroke="#3a3636" stroke-width="1.0" />
<line x1="443.84" y1="372.80" x2="443.84" y2="385.00" stroke="#3a3636" stroke-width="1.0" />
<line x1="446.40" y1="372.80" x2="446.40" y2="389.00" stroke="#3a3636" stroke-width="1.0" />
<line x1="448.96" y1="372.80" x2="448.96" y2="385.00" stroke="#3a3636" stroke-width="1.0" />
<line x1="451.52" y1="372.80" x2="451.52" y2="385.00" stroke="#3a3636" stroke-width="1.0" />
<line x1="454.08" y1="372.80" x2="454.08" y2="385.00" stroke="#3a3636" stroke-width="1.0" />
<line x1="456.64" y1="372.80" x2="456.64" y2="385.00" stroke="#3a3636" stroke-width="1.0" />
<line x1="459.20" y1="372.80" x2="459.20" y2="396.40" stroke="#3a3636" stroke-width="1.0" />
<line x1="461.76" y1="372.80" x2="461.76" y2="385.00" stroke="#3a3636" stroke-width="1.0" />
<line x1="464.32" y1="372.80" x2="464.32" y2="385.00" stroke="#3a3636" stroke-width="1.0" />
<line x1="466.88" y1="372.80" x2="466.88" y2="385.00" stroke="#3a3636" stroke-width="1.0" />
<line x1="469.44" y1="372.80" x2="469.44" y2="385.00" stroke="#3a3636" stroke-width="1.0" />
<line x1="472.00" y1="372.80" x2="472.00" y2="389.00" stroke="#3a3636" stroke-width="1.0" />
<line x1="474.56" y1="372.80" x2="474.56" y2="385.00" stroke="#3a3636" stroke-width="1.0" />
<line x1="477.12" y1="372.80" x2="477.12" y2="385.00" stroke="#3a3636" stroke-width="1.0" />
<line x1="479.68" y1="372.80" x2="479.68" y2="385.00" stroke="#3a3636" stroke-width="1.0" />
<line x1="482.24" y1="372.80" x2="482.24" y2="385.00" stroke="#3a3636" stroke-width="1.0" />
<line x1="484.80" y1="372.80" x2="484.80" y2="396.40" stroke="#3a3636" stroke-width="1.0" />
<line x1="487.36" y1="372.80" x2="487.36" y2="385.00" stroke="#3a3636" stroke-width="1.0" />
<line x1="489.92" y1="372.80" x2="489.92" y2="385.00" stroke="#3a3636" stroke-width="1.0" />
<line x1="492.48" y1="372.80" x2="492.48" y2="385.00" stroke="#3a3636" stroke-width="1.0" />
<line x1="495.04" y1="372.80" x2="495.04" y2="385.00" stroke="#3a3636" stroke-width="1.0" />
<line x1="497.60" y1="372.80" x2="497.60" y2="389.00" stroke="#3a3636" stroke-width="1.0" />
<line x1="500.16" y1="372.80" x2="500.16" y2="385.00" stroke="#3a3636" stroke-width="1.0" />
<line x1="502.72" y1="372.80" x2="502.72" y2="385.00" stroke="#3a3636" stroke-width="1.0" />
<line x1="505.28" y1="372.80" x2="505.28" y2="385.00" stroke="#3a3636" stroke-width="1.0" />
<line x1="507.84" y1="372.80" x2="507.84" y2="385.00" stroke="#3a3636" stroke-width="1.0" />
<line x1="510.40" y1="372.80" x2="510.40" y2="396.40" stroke="#3a3636" stroke-width="1.0" />
<line x1="512.96" y1="372.80" x2="512.96" y2="385.00" stroke="#3a3636" stroke-width="1.0" />
<line x1="515.52" y1="372.80" x2="515.52" y2="385.00" stroke="#3a3636" stroke-width="1.0" />
<line x1="518.08" y1="372.80" x2="518.08" y2="385.00" stroke="#3a3636" stroke-width="1.0" />
<line x1="520.64" y1="372.80" x2="520.64" y2="385.00" stroke="#3a3636" stroke-width="1.0" />
<line x1="523.20" y1="372.80" x2="523.20" y2="389.00" stroke="#3a3636" stroke-width="1.0" />
<line x1="525.76" y1="372.80" x2="525.76" y2="385.00" stroke="#3a3636" stroke-width="1.0" />
<line x1="528.32" y1="372.80" x2="528.32" y2="385.00" stroke="#3a3636" stroke-width="1.0" />
<line x1="530.88" y1="372.80" x2="530.88" y2="385.00" stroke="#3a3636" stroke-width="1.0" />
<line x1="533.44" y1="372.80" x2="533.44" y2="385.00" stroke="#3a3636" stroke-width="1.0" />
<line x1="536.00" y1="372.80" x2="536.00" y2="396.40" stroke="#3a3636" stroke-width="1.0" />
<line x1="538.56" y1="372.80" x2="538.56" y2="385.00" stroke="#3a3636" stroke-width="1.0" />
<line x1="541.12" y1="372.80" x2="541.12" y2="385.00" stroke="#3a3636" stroke-width="1.0" />
<line x1="543.68" y1="372.80" x2="543.68" y2="385.00" stroke="#3a3636" stroke-width="1.0" />
<line x1="546.24" y1="372.80" x2="546.24" y2="385.00" stroke="#3a3636" stroke-width="1.0" />
<line x1="548.80" y1="372.80" x2="548.80" y2="389.00" stroke="#3a3636" stroke-width="1.0" />
<line x1="551.36" y1="372.80" x2="551.36" y2="385.00" stroke="#3a3636" stroke-width="1.0" />
<line x1="553.92" y1="372.80" x2="553.92" y2="385.00" stroke="#3a3636" stroke-width="1.0" />
<line x1="556.48" y1="372.80" x2="556.48" y2="385.00" stroke="#3a3636" stroke-width="1.0" />
<text transform="translate(382.40 405.80) scale(1 1.05)" font-size="8" text-anchor="middle" fill="#1a1a1a" font-weight="normal" >0</text>
<circle cx="395.2" cy="390.2" r="1.1" fill="#f3ecea" stroke="#555" stroke-width="0.6"/>
<text transform="translate(408.00 405.80) scale(1 1.05)" font-size="8" text-anchor="middle" fill="#1a1a1a" font-weight="normal" >1</text>
<circle cx="420.8" cy="390.2" r="1.1" fill="#f3ecea" stroke="#555" stroke-width="0.6"/>
<text transform="translate(433.60 405.80) scale(1 1.05)" font-size="8" text-anchor="middle" fill="#1a1a1a" font-weight="normal" >2</text>
<circle cx="446.4" cy="390.2" r="1.1" fill="#f3ecea" stroke="#555" stroke-width="0.6"/>
<text transform="translate(459.20 405.80) scale(1 1.05)" font-size="8" text-anchor="middle" fill="#1a1a1a" font-weight="normal" >3</text>
<circle cx="472.0" cy="390.2" r="1.1" fill="#f3ecea" stroke="#555" stroke-width="0.6"/>
<text transform="translate(484.80 405.80) scale(1 1.05)" font-size="8" text-anchor="middle" fill="#1a1a1a" font-weight="normal" >4</text>
<circle cx="497.6" cy="390.2" r="1.1" fill="#f3ecea" stroke="#555" stroke-width="0.6"/>
<text transform="translate(510.40 405.80) scale(1 1.05)" font-size="8" text-anchor="middle" fill="#1a1a1a" font-weight="normal" >5</text>
<circle cx="523.2" cy="390.2" r="1.1" fill="#f3ecea" stroke="#555" stroke-width="0.6"/>
<text transform="translate(536.00 405.80) scale(1 1.05)" font-size="8" text-anchor="middle" fill="#1a1a1a" font-weight="normal" >6</text>
<circle cx="548.8" cy="390.2" r="1.1" fill="#f3ecea" stroke="#555" stroke-width="0.6"/>
<text transform="translate(395.40 400.00) scale(1 1.05)" font-size="7.2" text-anchor="middle" fill="#222" font-weight="normal" >CM</text>
<ellipse cx="394.2" cy="317.7" rx="17.8" ry="5.5" fill="#4d9ab8" opacity="0.55" filter="url(#bl2)"/>
<clipPath id="tc1"><path d="M376.8,310.0 Q375.5,303.0 376.8,298.5 Q378.0,294.0 382.0,292.3 Q386.0,290.6 392.0,291.1 Q398.0,291.5 403.0,292.8 Q408.0,294.0 409.5,298.0 Q411.0,302.0 409.0,306.5 Q407.0,311.0 403.5,314.0 Q400.0,317.0 396.0,316.5 Q392.0,316.0 389.0,318.7 Q386.0,321.4 382.0,319.2 Q378.0,317.0 376.8,310.0 Z"/></clipPath>
<g clip-path="url(#tc1)"><g filter="url(#bl3)"><path d="M376.8,310.0 Q375.5,303.0 376.8,298.5 Q378.0,294.0 382.0,292.3 Q386.0,290.6 392.0,291.1 Q398.0,291.5 403.0,292.8 Q408.0,294.0 409.5,298.0 Q411.0,302.0 409.0,306.5 Q407.0,311.0 403.5,314.0 Q400.0,317.0 396.0,316.5 Q392.0,316.0 389.0,318.7 Q386.0,321.4 382.0,319.2 Q378.0,317.0 376.8,310.0 Z" fill="#e8847c"/><ellipse cx="395.9" cy="308.9" rx="6.2" ry="4.8" fill="#f6cdbd" opacity="0.5"/><ellipse cx="398.4" cy="312.3" rx="3.0" ry="3.3" fill="#f6cdbd" opacity="0.5"/><ellipse cx="402.7" cy="307.2" rx="6.7" ry="2.2" fill="#f6cdbd" opacity="0.5"/><ellipse cx="392.6" cy="299.8" rx="5.2" ry="3.6" fill="#f6cdbd" opacity="0.5"/><ellipse cx="376.0" cy="297.3" rx="2.6" ry="3.8" fill="#d93a48" opacity="0.75"/><ellipse cx="402.7" cy="295.5" rx="4.0" ry="1.9" fill="#d93a48" opacity="0.75"/><ellipse cx="397.4" cy="294.5" rx="1.8" ry="3.7" fill="#d93a48" opacity="0.75"/><ellipse cx="382.9" cy="297.2" rx="4.6" ry="3.7" fill="#d93a48" opacity="0.75"/><ellipse cx="385.8" cy="320.2" rx="3.3" ry="3.2" fill="#d93a48" opacity="0.75"/><ellipse cx="382.8" cy="319.6" rx="3.7" ry="3.9" fill="#d93a48" opacity="0.75"/></g></g>
<path d="M376.8,310.0 Q375.5,303.0 376.8,298.5 Q378.0,294.0 382.0,292.3 Q386.0,290.6 392.0,291.1 Q398.0,291.5 403.0,292.8 Q408.0,294.0 409.5,298.0 Q411.0,302.0 409.0,306.5 Q407.0,311.0 403.5,314.0 Q400.0,317.0 396.0,316.5 Q392.0,316.0 389.0,318.7 Q386.0,321.4 382.0,319.2 Q378.0,317.0 376.8,310.0 Z" fill="none" stroke="#d93a48" stroke-width="0.6" opacity="0.35" filter="url(#bl1)"/>
<ellipse cx="436.4" cy="313.9" rx="16.3" ry="6.2" fill="#4d9ab8" opacity="0.55" filter="url(#bl2)"/>
<clipPath id="tc2"><path d="M420.0,305.5 Q419.0,300.0 420.0,295.5 Q421.0,291.0 423.0,287.8 Q425.0,284.5 429.0,284.1 Q433.0,283.8 437.0,284.9 Q441.0,286.0 444.5,289.5 Q448.0,293.0 449.9,298.5 Q451.7,304.0 450.4,309.0 Q449.0,314.0 444.5,316.0 Q440.0,318.0 434.0,317.8 Q428.0,317.5 424.5,314.2 Q421.0,311.0 420.0,305.5 Z"/></clipPath>
<g clip-path="url(#tc2)"><g filter="url(#bl3)"><path d="M420.0,305.5 Q419.0,300.0 420.0,295.5 Q421.0,291.0 423.0,287.8 Q425.0,284.5 429.0,284.1 Q433.0,283.8 437.0,284.9 Q441.0,286.0 444.5,289.5 Q448.0,293.0 449.9,298.5 Q451.7,304.0 450.4,309.0 Q449.0,314.0 444.5,316.0 Q440.0,318.0 434.0,317.8 Q428.0,317.5 424.5,314.2 Q421.0,311.0 420.0,305.5 Z" fill="#e8847c"/><ellipse cx="443.1" cy="295.1" rx="4.0" ry="2.6" fill="#f6cdbd" opacity="0.5"/><ellipse cx="428.4" cy="290.3" rx="3.8" ry="4.1" fill="#f6cdbd" opacity="0.5"/><ellipse cx="425.6" cy="302.8" rx="3.9" ry="3.1" fill="#f6cdbd" opacity="0.5"/><ellipse cx="441.6" cy="298.8" rx="3.9" ry="3.7" fill="#f6cdbd" opacity="0.5"/><ellipse cx="442.0" cy="285.7" rx="4.2" ry="1.8" fill="#d93a48" opacity="0.75"/><ellipse cx="443.5" cy="312.7" rx="1.7" ry="3.9" fill="#d93a48" opacity="0.75"/><ellipse cx="431.0" cy="303.6" rx="1.7" ry="1.8" fill="#d93a48" opacity="0.75"/><ellipse cx="424.9" cy="316.5" rx="2.1" ry="3.8" fill="#d93a48" opacity="0.75"/><ellipse cx="449.4" cy="316.0" rx="2.5" ry="2.7" fill="#d93a48" opacity="0.75"/><ellipse cx="436.2" cy="310.3" rx="1.9" ry="3.8" fill="#d93a48" opacity="0.75"/><ellipse cx="445.1" cy="313.2" rx="1.7" ry="4.3" fill="#d93a48" opacity="0.75"/></g></g>
<path d="M420.0,305.5 Q419.0,300.0 420.0,295.5 Q421.0,291.0 423.0,287.8 Q425.0,284.5 429.0,284.1 Q433.0,283.8 437.0,284.9 Q441.0,286.0 444.5,289.5 Q448.0,293.0 449.9,298.5 Q451.7,304.0 450.4,309.0 Q449.0,314.0 444.5,316.0 Q440.0,318.0 434.0,317.8 Q428.0,317.5 424.5,314.2 Q421.0,311.0 420.0,305.5 Z" fill="none" stroke="#d93a48" stroke-width="0.6" opacity="0.35" filter="url(#bl1)"/>
<ellipse cx="477.6" cy="317.6" rx="15.8" ry="5.7" fill="#4d9ab8" opacity="0.55" filter="url(#bl2)"/>
<clipPath id="tc3"><path d="M461.4,302.5 Q460.9,296.0 463.4,293.2 Q466.0,290.5 471.0,290.1 Q476.0,289.8 482.0,290.1 Q488.0,290.5 490.2,294.2 Q492.4,298.0 491.7,304.0 Q491.0,310.0 489.0,315.0 Q487.0,320.0 482.5,320.7 Q478.0,321.4 473.0,320.2 Q468.0,319.0 465.0,314.0 Q462.0,309.0 461.4,302.5 Z"/></clipPath>
<g clip-path="url(#tc3)"><g filter="url(#bl3)"><path d="M461.4,302.5 Q460.9,296.0 463.4,293.2 Q466.0,290.5 471.0,290.1 Q476.0,289.8 482.0,290.1 Q488.0,290.5 490.2,294.2 Q492.4,298.0 491.7,304.0 Q491.0,310.0 489.0,315.0 Q487.0,320.0 482.5,320.7 Q478.0,321.4 473.0,320.2 Q468.0,319.0 465.0,314.0 Q462.0,309.0 461.4,302.5 Z" fill="#e8847c"/><ellipse cx="468.9" cy="301.0" rx="4.8" ry="4.8" fill="#f6cdbd" opacity="0.5"/><ellipse cx="473.6" cy="312.1" rx="4.6" ry="2.9" fill="#f6cdbd" opacity="0.5"/><ellipse cx="473.2" cy="297.9" rx="2.8" ry="2.4" fill="#f6cdbd" opacity="0.5"/><ellipse cx="480.2" cy="313.4" rx="3.1" ry="2.0" fill="#f6cdbd" opacity="0.5"/><ellipse cx="492.0" cy="306.7" rx="2.6" ry="2.2" fill="#d93a48" opacity="0.75"/><ellipse cx="479.6" cy="315.9" rx="2.7" ry="2.6" fill="#d93a48" opacity="0.75"/><ellipse cx="462.7" cy="318.7" rx="1.7" ry="2.8" fill="#d93a48" opacity="0.75"/><ellipse cx="487.3" cy="293.9" rx="3.4" ry="4.0" fill="#d93a48" opacity="0.75"/><ellipse cx="480.8" cy="314.7" rx="1.8" ry="2.7" fill="#d93a48" opacity="0.75"/><ellipse cx="465.6" cy="316.5" rx="2.3" ry="2.7" fill="#d93a48" opacity="0.75"/><ellipse cx="492.4" cy="316.7" rx="4.0" ry="2.7" fill="#d93a48" opacity="0.75"/></g></g>
<path d="M461.4,302.5 Q460.9,296.0 463.4,293.2 Q466.0,290.5 471.0,290.1 Q476.0,289.8 482.0,290.1 Q488.0,290.5 490.2,294.2 Q492.4,298.0 491.7,304.0 Q491.0,310.0 489.0,315.0 Q487.0,320.0 482.5,320.7 Q478.0,321.4 473.0,320.2 Q468.0,319.0 465.0,314.0 Q462.0,309.0 461.4,302.5 Z" fill="none" stroke="#d93a48" stroke-width="0.6" opacity="0.35" filter="url(#bl1)"/>
<ellipse cx="519.7" cy="310.5" rx="17.1" ry="4.5" fill="#4d9ab8" opacity="0.55" filter="url(#bl2)"/>
<clipPath id="tc4"><path d="M502.8,302.5 Q501.6,298.0 503.3,294.5 Q505.0,291.0 509.0,289.8 Q513.0,288.5 517.5,289.2 Q522.0,290.0 526.5,291.0 Q531.0,292.0 533.4,296.0 Q535.8,300.0 534.4,304.5 Q533.0,309.0 528.5,311.2 Q524.0,313.5 518.0,313.2 Q512.0,313.0 508.0,310.0 Q504.0,307.0 502.8,302.5 Z"/></clipPath>
<g clip-path="url(#tc4)"><g filter="url(#bl3)"><path d="M502.8,302.5 Q501.6,298.0 503.3,294.5 Q505.0,291.0 509.0,289.8 Q513.0,288.5 517.5,289.2 Q522.0,290.0 526.5,291.0 Q531.0,292.0 533.4,296.0 Q535.8,300.0 534.4,304.5 Q533.0,309.0 528.5,311.2 Q524.0,313.5 518.0,313.2 Q512.0,313.0 508.0,310.0 Q504.0,307.0 502.8,302.5 Z" fill="#e67c76"/><ellipse cx="518.5" cy="303.2" rx="4.7" ry="2.2" fill="#f6cdbd" opacity="0.5"/><ellipse cx="516.7" cy="294.4" rx="4.3" ry="4.0" fill="#f6cdbd" opacity="0.5"/><ellipse cx="528.1" cy="301.7" rx="4.8" ry="2.3" fill="#f6cdbd" opacity="0.5"/><ellipse cx="510.3" cy="296.3" rx="5.9" ry="3.7" fill="#f6cdbd" opacity="0.5"/><ellipse cx="514.0" cy="308.2" rx="3.8" ry="2.6" fill="#d93a48" opacity="0.75"/><ellipse cx="524.3" cy="307.5" rx="2.7" ry="2.7" fill="#d93a48" opacity="0.75"/><ellipse cx="511.2" cy="300.6" rx="3.8" ry="2.6" fill="#d93a48" opacity="0.75"/><ellipse cx="511.6" cy="312.1" rx="3.5" ry="2.4" fill="#d93a48" opacity="0.75"/><ellipse cx="502.0" cy="302.2" rx="2.4" ry="2.6" fill="#d93a48" opacity="0.75"/><ellipse cx="517.4" cy="308.9" rx="3.5" ry="2.8" fill="#d93a48" opacity="0.75"/></g></g>
<path d="M502.8,302.5 Q501.6,298.0 503.3,294.5 Q505.0,291.0 509.0,289.8 Q513.0,288.5 517.5,289.2 Q522.0,290.0 526.5,291.0 Q531.0,292.0 533.4,296.0 Q535.8,300.0 534.4,304.5 Q533.0,309.0 528.5,311.2 Q524.0,313.5 518.0,313.2 Q512.0,313.0 508.0,310.0 Q504.0,307.0 502.8,302.5 Z" fill="none" stroke="#d93a48" stroke-width="0.6" opacity="0.35" filter="url(#bl1)"/>
<clipPath id="tc5"><path d="M382.2,337.0 Q381.5,333.0 383.8,330.5 Q386.0,328.0 389.5,327.7 Q393.0,327.4 395.5,330.2 Q398.0,333.0 397.5,336.5 Q397.0,340.0 393.5,341.8 Q390.0,343.5 386.5,342.2 Q383.0,341.0 382.2,337.0 Z"/></clipPath>
<g clip-path="url(#tc5)"><g filter="url(#bl3)"><path d="M382.2,337.0 Q381.5,333.0 383.8,330.5 Q386.0,328.0 389.5,327.7 Q393.0,327.4 395.5,330.2 Q398.0,333.0 397.5,336.5 Q397.0,340.0 393.5,341.8 Q390.0,343.5 386.5,342.2 Q383.0,341.0 382.2,337.0 Z" fill="#efb0a6"/><ellipse cx="388.2" cy="336.0" rx="2.8" ry="2.3" fill="#f8d9cc" opacity="0.5"/><ellipse cx="388.3" cy="338.0" rx="3.0" ry="2.1" fill="#f8d9cc" opacity="0.5"/><ellipse cx="394.5" cy="339.1" rx="2.3" ry="1.8" fill="#f8d9cc" opacity="0.5"/><ellipse cx="384.2" cy="340.9" rx="2.1" ry="1.4" fill="#e48d88" opacity="0.75"/><ellipse cx="392.9" cy="339.0" rx="1.8" ry="1.0" fill="#e48d88" opacity="0.75"/></g></g>
<path d="M382.2,337.0 Q381.5,333.0 383.8,330.5 Q386.0,328.0 389.5,327.7 Q393.0,327.4 395.5,330.2 Q398.0,333.0 397.5,336.5 Q397.0,340.0 393.5,341.8 Q390.0,343.5 386.5,342.2 Q383.0,341.0 382.2,337.0 Z" fill="none" stroke="#e48d88" stroke-width="0.6" opacity="0.35" filter="url(#bl1)"/>
<clipPath id="tc6"><path d="M422.6,337.5 Q422.3,335.0 424.1,333.1 Q426.0,331.2 429.5,331.6 Q433.0,332.0 435.0,334.0 Q437.0,336.0 436.0,339.0 Q435.0,342.0 431.0,342.5 Q427.0,343.0 425.0,341.5 Q423.0,340.0 422.6,337.5 Z"/></clipPath>
<g clip-path="url(#tc6)"><g filter="url(#bl3)"><path d="M422.6,337.5 Q422.3,335.0 424.1,333.1 Q426.0,331.2 429.5,331.6 Q433.0,332.0 435.0,334.0 Q437.0,336.0 436.0,339.0 Q435.0,342.0 431.0,342.5 Q427.0,343.0 425.0,341.5 Q423.0,340.0 422.6,337.5 Z" fill="#efb0a6"/><ellipse cx="432.1" cy="337.1" rx="2.4" ry="1.2" fill="#f8d9cc" opacity="0.5"/><ellipse cx="430.7" cy="338.5" rx="2.3" ry="1.6" fill="#f8d9cc" opacity="0.5"/><ellipse cx="422.7" cy="333.1" rx="1.3" ry="1.2" fill="#e48d88" opacity="0.75"/><ellipse cx="425.5" cy="339.3" rx="1.5" ry="0.6" fill="#e48d88" opacity="0.75"/></g></g>
<path d="M422.6,337.5 Q422.3,335.0 424.1,333.1 Q426.0,331.2 429.5,331.6 Q433.0,332.0 435.0,334.0 Q437.0,336.0 436.0,339.0 Q435.0,342.0 431.0,342.5 Q427.0,343.0 425.0,341.5 Q423.0,340.0 422.6,337.5 Z" fill="none" stroke="#e48d88" stroke-width="0.6" opacity="0.35" filter="url(#bl1)"/>
<clipPath id="tc7"><path d="M466.8,340.8 Q465.5,338.0 467.2,336.9 Q469.0,335.7 472.0,335.9 Q475.0,336.0 476.2,337.8 Q477.4,339.5 475.7,341.5 Q474.0,343.5 471.0,343.6 Q468.0,343.6 466.8,340.8 Z"/></clipPath>
<g clip-path="url(#tc7)"><g filter="url(#bl3)"><path d="M466.8,340.8 Q465.5,338.0 467.2,336.9 Q469.0,335.7 472.0,335.9 Q475.0,336.0 476.2,337.8 Q477.4,339.5 475.7,341.5 Q474.0,343.5 471.0,343.6 Q468.0,343.6 466.8,340.8 Z" fill="#f5ddd2"/><ellipse cx="471.2" cy="338.0" rx="1.0" ry="0.6" fill="#fbece4" opacity="0.5"/><ellipse cx="469.3" cy="337.1" rx="0.8" ry="0.4" fill="#f0cfc4" opacity="0.75"/></g></g>
<path d="M466.8,340.8 Q465.5,338.0 467.2,336.9 Q469.0,335.7 472.0,335.9 Q475.0,336.0 476.2,337.8 Q477.4,339.5 475.7,341.5 Q474.0,343.5 471.0,343.6 Q468.0,343.6 466.8,340.8 Z" fill="none" stroke="#f0cfc4" stroke-width="0.6" opacity="0.35" filter="url(#bl1)"/>
<clipPath id="tc8"><path d="M383.2,357.5 Q382.4,354.0 384.7,352.2 Q387.0,350.5 391.0,351.2 Q395.0,352.0 398.7,355.5 Q402.4,359.0 401.2,362.2 Q400.0,365.5 395.5,365.8 Q391.0,366.0 387.5,363.5 Q384.0,361.0 383.2,357.5 Z"/></clipPath>
<g clip-path="url(#tc8)"><g filter="url(#bl3)"><path d="M383.2,357.5 Q382.4,354.0 384.7,352.2 Q387.0,350.5 391.0,351.2 Q395.0,352.0 398.7,355.5 Q402.4,359.0 401.2,362.2 Q400.0,365.5 395.5,365.8 Q391.0,366.0 387.5,363.5 Q384.0,361.0 383.2,357.5 Z" fill="#efb0a6"/><ellipse cx="392.0" cy="356.4" rx="3.1" ry="1.8" fill="#f8d9cc" opacity="0.5"/><ellipse cx="389.3" cy="361.2" rx="1.6" ry="1.6" fill="#f8d9cc" opacity="0.5"/><ellipse cx="389.7" cy="356.6" rx="1.9" ry="2.2" fill="#f8d9cc" opacity="0.5"/><ellipse cx="389.9" cy="351.1" rx="2.0" ry="0.9" fill="#e48d88" opacity="0.75"/><ellipse cx="393.3" cy="355.8" rx="1.9" ry="2.0" fill="#e48d88" opacity="0.75"/></g></g>
<path d="M383.2,357.5 Q382.4,354.0 384.7,352.2 Q387.0,350.5 391.0,351.2 Q395.0,352.0 398.7,355.5 Q402.4,359.0 401.2,362.2 Q400.0,365.5 395.5,365.8 Q391.0,366.0 387.5,363.5 Q384.0,361.0 383.2,357.5 Z" fill="none" stroke="#e48d88" stroke-width="0.6" opacity="0.35" filter="url(#bl1)"/>
<clipPath id="tc9"><path d="M424.6,360.8 Q423.2,357.0 425.1,355.6 Q427.0,354.3 430.0,354.6 Q433.0,355.0 433.8,357.5 Q434.6,360.0 433.3,362.6 Q432.0,365.1 429.0,364.8 Q426.0,364.5 424.6,360.8 Z"/></clipPath>
<g clip-path="url(#tc9)"><g filter="url(#bl3)"><path d="M424.6,360.8 Q423.2,357.0 425.1,355.6 Q427.0,354.3 430.0,354.6 Q433.0,355.0 433.8,357.5 Q434.6,360.0 433.3,362.6 Q432.0,365.1 429.0,364.8 Q426.0,364.5 424.6,360.8 Z" fill="#efb0a6"/><ellipse cx="431.1" cy="358.6" rx="2.0" ry="1.3" fill="#f8d9cc" opacity="0.5"/><ellipse cx="428.0" cy="356.8" rx="1.7" ry="1.3" fill="#f8d9cc" opacity="0.5"/><ellipse cx="434.1" cy="364.8" rx="1.1" ry="0.8" fill="#e48d88" opacity="0.75"/><ellipse cx="433.4" cy="354.3" rx="0.7" ry="1.0" fill="#e48d88" opacity="0.75"/></g></g>
<path d="M424.6,360.8 Q423.2,357.0 425.1,355.6 Q427.0,354.3 430.0,354.6 Q433.0,355.0 433.8,357.5 Q434.6,360.0 433.3,362.6 Q432.0,365.1 429.0,364.8 Q426.0,364.5 424.6,360.8 Z" fill="none" stroke="#e48d88" stroke-width="0.6" opacity="0.35" filter="url(#bl1)"/>
<path d="M514.90,333.30 L514.90,339.50 M517.58,334.85 L512.22,337.95 M517.58,337.95 L512.22,334.85 " stroke="#111" stroke-width="1.25" fill="none"/>
<path d="M470.10,363.70 L470.10,369.90 M472.78,365.25 L467.42,368.35 M472.78,368.35 L467.42,365.25 " stroke="#111" stroke-width="1.25" fill="none"/>
<path d="M515.70,363.70 L515.70,369.90 M518.38,365.25 L513.02,368.35 M518.38,368.35 L513.02,365.25 " stroke="#111" stroke-width="1.25" fill="none"/>
<path d="M549,569 Q549,565 556,564.8 L570,564.4 Q574.5,564.6 574.5,568.5 Q574,573.2 566,573.4 L556,573.6 Q549,573.4 549,569 Z" fill="#000" filter="url(#bl3)"/>
<ellipse cx="592.5" cy="568.6" rx="11.5" ry="2.0" fill="#bdbdbd" filter="url(#bl2)"/>
<ellipse cx="622.2" cy="568.2" rx="11" ry="2.2" fill="#9c9c9c" filter="url(#bl2)"/>
<ellipse cx="634.2" cy="568.2" rx="1" ry="2.2" fill="#333" filter="url(#bl1)"/>
<rect x="545.5" y="591.4" width="30.0" height="5.6" rx="2.8" fill="#050505" filter="url(#bl3)"/>
<rect x="576.5" y="591.4" width="29.0" height="5.6" rx="2.8" fill="#050505" filter="url(#bl3)"/>
<rect x="607" y="591.4" width="27.5" height="5.6" rx="2.8" fill="#050505" filter="url(#bl3)"/>
</svg></body></html>
